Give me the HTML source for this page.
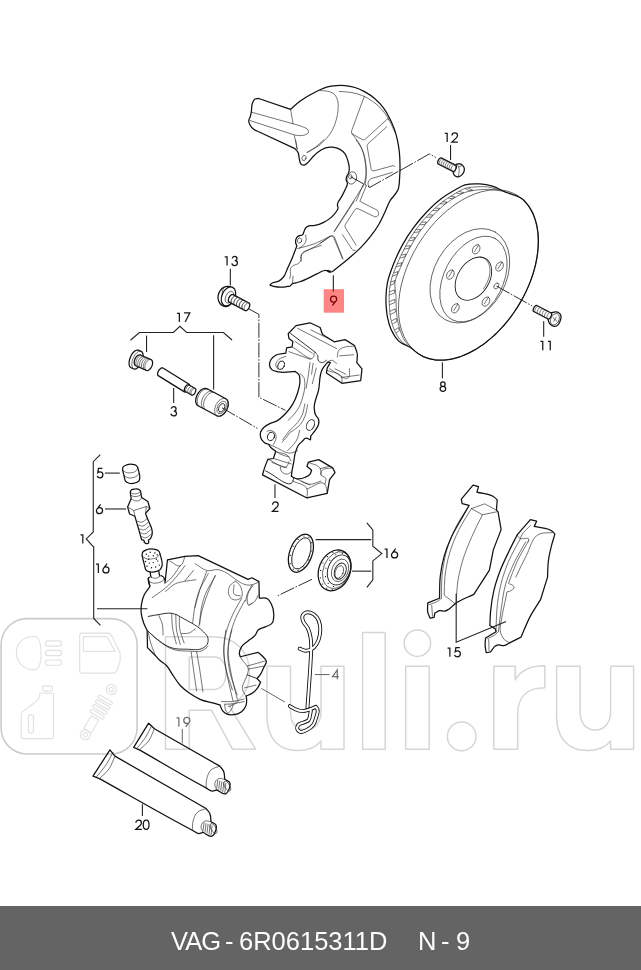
<!DOCTYPE html>
<html><head><meta charset="utf-8"><title>VAG 6R0615311D</title>
<style>
html,body{margin:0;padding:0;background:#fff}
body{width:641px;height:970px;position:relative;overflow:hidden;font-family:"Liberation Sans",sans-serif}
svg{position:absolute;left:0;top:0;display:block}
.k{fill:none;stroke:#111;stroke-width:1.25;stroke-linejoin:round;stroke-linecap:round}
.kf{fill:#fff;stroke:#111;stroke-width:1.25;stroke-linejoin:round;stroke-linecap:round}
.t{fill:none;stroke:#2a2a2a;stroke-width:.65;stroke-linejoin:round;stroke-linecap:round}
.tf{fill:#fff;stroke:#2a2a2a;stroke-width:.65;stroke-linejoin:round}
.m{fill:none;stroke:#1a1a1a;stroke-width:.9;stroke-linejoin:round;stroke-linecap:round}
.l{fill:none;stroke:#222;stroke-width:1.1}
.lg{fill:none;stroke:#666;stroke-width:1}
.d{fill:none;stroke:#1a1a1a;stroke-width:.9;stroke-dasharray:15 1.6 1.6 1.6}
.w{fill:none;stroke:#d6d6d6;stroke-width:1.5;stroke-linejoin:round}
.w2{fill:none;stroke:#e2e2e2;stroke-width:1.2;stroke-linejoin:round;stroke-linecap:round}
.wb{fill:none;stroke:#cbcbcb;stroke-width:1.6}
.n{vector-effect:non-scaling-stroke;fill:none;stroke:#151515;stroke-width:1.25;stroke-linecap:butt;stroke-linejoin:miter}
.bar{position:absolute;left:0;top:906px;width:641px;height:64px;background:#646464;color:#fff;font-size:25.5px;line-height:70.4px;white-space:pre;text-align:left}
.bar span{position:absolute;left:171px;top:0;will-change:transform;opacity:.999}
</style></head><body>
<svg width="641" height="970" viewBox="0 0 641 970">
<g id="p_wm"><rect class="wb" x="1.1" y="618.6" width="136" height="135.4" rx="26" ry="26"/>
<g transform="translate(0 612) scale(0.2184)" fill="none" stroke="#e1e1e1" stroke-width="5.2" stroke-linejoin="round"><path d="M155,112C100,112 75,150 75,187C75,225 105,265 155,265C180,265 188,230 188,190C188,150 180,112 155,112Z"/><rect x="208" y="132" width="74" height="24" rx="12"/><rect x="208" y="176" width="74" height="24" rx="12"/><rect x="208" y="220" width="74" height="24" rx="12"/><path d="M375,97H495C505,97 510,105 515,115L550,190V225L535,270C532,278 528,280 520,280H375C368,280 365,276 365,270V108C365,100 368,97 375,97Z"/><path d="M382,113H490L527,180H382Z"/><rect x="195" y="338" width="45" height="24" rx="8"/><path d="M182,372H245V570C245,578 240,580 235,580H105C100,580 97,576 97,570V470C97,462 100,458 105,455L165,410C175,402 180,395 182,385Z"/><rect x="130" y="470" width="23" height="85" rx="11"/><g transform="translate(510 355) rotate(30)"><circle cx="0" cy="0" r="23"/><circle cx="0" cy="0" r="10"/><rect x="-36" y="48" width="72" height="15" rx="7"/><rect x="-36" y="73" width="72" height="15" rx="7"/><rect x="-36" y="98" width="72" height="15" rx="7"/><rect x="-36" y="123" width="72" height="15" rx="7"/><path d="M-20,150H20V218H-20Z"/><circle cx="0" cy="239" r="23"/><circle cx="0" cy="239" r="10"/></g></g>
<path class="w" d="M165.5,636.8H213C236,636.8 249.5,652 249.5,673C249.5,690 241,701 229,705.5L255.5,749.2H232.5L211.5,710.2H189.3V749.2H165.5ZM189.3,657H214C222,657 226,664 226,673C226,682 222,689.4 214,689.4H189.3Z"/>
<path class="w" d="M267.0,666.2H290.5V712C290.5,724 297.0,730 306.0,730C315.0,730 321.0,722 321.0,712V666.2H344.0V749.3H321.0V741C316.0,747 308.0,750.6 298.0,750.6C278.0,750.6 267.0,738 267.0,716Z"/>
<path class="w" d="M556.6,666.2H580.1V712C580.1,724 586.6,730 595.6,730C604.6,730 610.6,722 610.6,712V666.2H633.6V749.3H610.6V741C605.6,747 597.6,750.6 587.6,750.6C567.6,750.6 556.6,738 556.6,716Z"/>
<path class="w" d="M362.6,632.6H385.2V749.2H362.6Z"/>
<path class="w" d="M405.7,666.2H429.2V749.2H405.7Z"/>
<circle class="w" cx="417.4" cy="643.2" r="13.2"/>
<circle class="w" cx="461.7" cy="736.4" r="14.3"/>
<path class="w" d="M493.8,666.2H515.2V680C520,671 530,665.8 544.8,665.8V687.7C527,687.7 517.7,697 517.7,714V749.2H493.8Z"/></g>
<g id="p_shield"><path class="k" d="M290.55,109.33L258.72,98.47C257.47,98.64 256.07,98.34 254.98,98.97C253.58,99.77 253.12,101.61 252.48,103.09C251.24,105.98 251.84,109.36 251.23,112.45C250.94,113.91 250.68,115.39 250.23,116.82C249.83,118.1 248.83,119.22 248.74,120.56C248.63,122.07 249.3,123.58 249.98,124.93C250.85,126.64 252.21,128.12 253.73,129.3C255.2,130.44 257.06,130.96 258.72,131.79L294.91,148.64C295.95,149.89 297.28,150.95 298.03,152.39C299.01,154.27 298.73,156.58 299.28,158.63C299.79,160.53 299.57,163.06 301.15,164.24C301.87,164.78 302.76,165.21 303.65,165.24C305.1,165.3 306.24,163.88 307.39,163C309.39,161.48 310.65,159.18 312.39,157.38C314.02,155.69 315.6,153.92 317.46,152.48C319.74,150.71 322.19,148.99 324.95,148.11C327.34,147.35 329.93,147.05 332.43,147.24C335.02,147.44 337.66,148.08 339.92,149.36C341.85,150.45 343.58,151.96 344.91,153.73C346.54,155.89 347.3,158.62 348.03,161.22C348.72,163.65 349.36,166.18 349.28,168.71C349.24,170.18 349.18,171.7 348.66,173.07C348.23,174.21 347.21,175.06 346.79,176.19C346.34,177.38 346,178.68 346.16,179.94C346.3,181.05 347.24,181.95 347.41,183.06C347.79,185.46 345.87,187.68 344.91,189.92C343.82,192.49 342.56,194.99 341.17,197.41C340.2,199.11 338.7,200.55 338.05,202.4C337.76,203.21 337.47,204.04 337.43,204.9C337.38,205.96 338.14,206.96 338.05,208.02C337.93,209.41 336.92,210.58 336.18,211.76C334.85,213.89 333.06,215.71 331.19,217.38C328.95,219.37 326.38,221.02 323.7,222.37C320.94,223.76 318.01,224.96 314.96,225.49C312.91,225.85 310.64,225.06 308.72,225.87C307.56,226.35 306.43,227.04 305.6,227.99C304.55,229.18 304.41,230.92 303.73,232.36C303.33,233.2 303.16,234.21 302.48,234.85C301.54,235.74 299.84,235.17 298.74,235.85C297.68,236.5 296.78,237.48 296.24,238.6C295.68,239.73 295.52,241.08 295.62,242.34C295.71,243.65 296.45,244.84 296.86,246.08C295.39,249.85 293.99,253.66 292.43,257.39C290.85,261.18 289.14,264.9 287.44,268.63C286.21,271.34 285.56,274.41 283.7,276.74C282.32,278.47 280.6,279.98 278.71,281.11C276.45,282.46 273.11,281.77 271.22,283.6C270.75,284.06 270.38,284.6 269.97,285.1C271.63,285.64 273.25,286.35 274.96,286.72C277.81,287.34 280.79,287.31 283.7,287.1C285.8,286.94 287.86,286.43 289.94,286.1L292.43,283.6C294.93,282.98 297.48,282.54 299.92,281.73C302.49,280.89 304.95,279.72 307.41,278.61C310.8,277.08 314,275.15 317.39,273.62C319.86,272.51 322.19,270.71 324.88,270.5C326.6,270.37 331.66,271.56 330,271.12C329.18,270.91 328.28,270.31 327.49,270.64C326.42,271.08 329.46,272.19 330.61,272.14C331.27,272.11 331.86,271.72 332.48,271.51C334.56,269.85 336.65,268.19 338.72,266.52C342.06,263.83 345.43,261.18 348.71,258.41C352.53,255.17 356.4,251.97 359.94,248.43C363.48,244.88 366.81,241.12 369.92,237.19C373.07,233.21 376.07,229.08 378.66,224.71C381.03,220.71 382.92,216.44 384.9,212.23C386.64,208.52 387.87,204.56 389.89,201C392.17,197 396.35,194.12 398,189.83C399.51,185.91 399.29,181.53 399.63,177.35C399.96,173.2 400.04,169.03 400,164.87C399.96,160.7 399.81,156.53 399.38,152.39C398.98,148.62 398.41,144.86 397.63,141.15C396.83,137.36 395.88,133.59 394.63,129.92C393.32,126.07 391.71,122.32 389.89,118.69C388.05,115.02 386.1,111.37 383.65,108.08C381.1,104.66 378.16,101.5 374.91,98.72C371.85,96.09 368.47,93.8 364.93,91.86C361.75,90.11 358.42,88.54 354.95,87.49C351.71,86.5 348.33,85.91 344.96,85.62C342.06,85.37 339.13,85.41 336.22,85.62C333.29,85.82 330.33,86.11 327.49,86.86C324.9,87.55 322.45,88.66 320,89.73C316.52,91.26 313.19,93.1 309.89,94.98C306.48,96.92 303.07,98.89 299.91,101.22C296.58,103.66 293.67,106.63 290.55,109.33Z"/>
<path class="t" d="M251.48,112.2L294.91,124.31C297.83,125.26 300.92,125.78 303.65,127.18C305.18,127.96 307.31,128.35 308.02,129.92C308.36,130.69 308.6,131.6 308.39,132.42C308.05,133.81 306.21,134.34 304.9,134.91C302.98,135.75 300.75,135.63 298.66,135.54C297.19,135.48 295.75,135.12 294.29,134.91L249.98,120.56"/>
<path class="t" d="M290.55,109.33C290.96,111.62 291.39,113.9 291.79,116.19C292.23,118.69 292.63,121.19 293.04,123.68"/>
<path class="t" d="M294.29,135.54C294.83,137.83 295.39,140.11 295.91,142.4C296.43,144.69 296.91,146.98 297.41,149.27"/>
<ellipse class="t" cx="304.02" cy="158" rx="2" ry="2.62" transform="rotate(20 304.02 158)"/>
<path class="t" d="M307.39,152.39C309.47,151.22 311.58,150.11 313.63,148.89C315.79,147.62 317.88,146.23 320,144.9"/>
<path class="t" d="M339.34,91.48C343.3,91.81 347.3,91.78 351.2,92.48C355.03,93.17 358.84,94.11 362.43,95.6C365.96,97.06 369.29,99.03 372.42,101.22C375.56,103.41 378.55,105.89 381.15,108.71C383.79,111.54 386.01,114.76 388.02,118.07C389.95,121.24 391.49,124.66 393.01,128.05C393.66,129.49 394.26,130.96 394.88,132.42"/>
<path class="t" d="M364.31,96.22L352.2,129.3C351.95,130.13 351.41,130.93 351.45,131.79C351.49,132.54 351.95,133.21 352.2,133.92L362.43,139.66C362.93,139.74 363.43,139.98 363.93,139.91C364.56,139.81 365.01,139.24 365.55,138.91L388.02,118.44L388.64,119.94"/>
<path class="t" d="M386.77,126.8L368.05,143.65C367.76,144.27 367.31,144.85 367.18,145.52C367.01,146.34 367.34,147.19 367.43,148.02L371.17,169.24C371.5,169.69 371.69,170.31 372.17,170.61C372.67,170.92 373.33,170.77 373.92,170.86L393.63,165.49L394.88,166.74"/>
<path class="t" d="M351.83,133.67C354.11,136.58 356.79,139.22 358.69,142.4C360.55,145.52 361.94,148.93 363.06,152.39C364.37,156.42 365.03,160.66 365.55,164.87C366.06,169 366.53,173.2 366.18,177.35C365.97,179.87 365.35,182.34 364.93,184.84"/>
<path class="t" d="M320,90.61C322.5,90.82 325.06,90.64 327.49,91.23C329.66,91.77 332,92.3 333.73,93.73C335.6,95.28 336.69,97.67 337.47,99.97C338.41,102.73 338.19,105.79 338.1,108.71C337.98,112.5 337.22,116.27 336.22,119.94C335.29,123.37 334.15,126.78 332.48,129.92C330.8,133.08 328.66,136.02 326.24,138.66C324.35,140.72 322.08,142.4 320,144.27"/>
<ellipse class="t" cx="351.83" cy="177.97" rx="4.74" ry="6.24" transform="rotate(15 351.83 177.97)"/>
<ellipse class="t" cx="350.33" cy="176.72" rx="1.75" ry="2.12" transform="rotate(15 350.33 176.72)"/>
<path class="t" d="M369.3,187.33C368.88,186.29 368.16,185.33 368.05,184.21C367.93,182.94 368.2,181.53 368.92,180.47C369.47,179.66 370.42,179.22 371.17,178.6L392.39,172.36"/>
<path class="t" d="M363.06,184.84L356.19,201.06"/>
<path class="t" d="M366.18,186.08L359.94,201.06"/>
<path class="t" d="M360.56,201.62L377.41,210.36C377.83,211.4 378.71,212.36 378.66,213.48C378.62,214.38 378.31,215.36 377.66,215.98C376.97,216.64 375.83,216.56 374.91,216.85L358.07,208.74C357.36,208.74 356.59,208.44 355.94,208.74C355.41,208.98 355.11,209.57 354.7,209.99L345.59,224.09C345.38,224.92 344.86,225.73 344.96,226.59C345.05,227.36 345.63,228 345.96,228.71L356.19,245.31"/>
<path class="t" d="M342.46,234.7L351.83,249.05C352.37,249.47 352.8,250.07 353.45,250.3C354,250.49 354.61,250.38 355.2,250.42"/>
<path class="t" d="M354.32,201L334.35,231.58"/>
<path class="t" d="M320,243.43L331.23,235.95C331.86,235.86 332.51,235.48 333.1,235.7C333.66,235.89 333.94,236.53 334.35,236.94L343.09,259.03"/>
<path class="t" d="M306.85,152.48C309.55,150.82 312.38,149.34 314.96,147.49C318.08,145.25 320.79,142.5 323.7,140"/>
<path class="t" d="M295.62,140L296.86,148.74"/>
<path class="t" d="M356.15,140C358.23,143.33 360.81,146.39 362.39,149.98C363.95,153.54 364.88,157.38 365.51,161.22C366.11,164.92 366.34,168.71 366.13,172.45C365.97,175.39 365.69,178.36 364.88,181.19C364.4,182.9 363.63,184.51 363.01,186.18"/>
<path class="t" d="M363.01,186.18L334.31,231.11"/>
<path class="t" d="M297.49,248.58C303.31,246.92 309.31,245.77 314.96,243.59C320.13,241.59 324.95,238.76 329.94,236.35C330.56,236.27 331.2,235.96 331.81,236.1C332.59,236.27 333.06,237.1 333.68,237.6L342.42,258.56"/>
<path class="t" d="M301.23,261.06C301.44,258.77 300.6,256.12 301.86,254.2C302.83,252.7 304.7,252.02 306.22,251.08C310.76,248.27 316.21,247.33 321.2,245.46"/>
<ellipse class="t" cx="299.55" cy="240.55" rx="2.12" ry="2.62" transform="rotate(20 299.55 240.55)"/>
<path class="t" d="M305.54,234.93C305.75,236.59 306.42,238.26 306.16,239.92C305.88,241.76 304.88,243.51 303.67,244.91C302.5,246.27 300.75,246.99 299.3,248.03"/>
<path class="t" d="M330,236.18C326.63,238.67 323.42,241.4 319.89,243.67C316.68,245.73 313.33,247.58 309.91,249.28C307.66,250.4 304.82,250.63 303.04,252.4C302.3,253.14 301.64,253.97 301.17,254.9C300.23,256.77 301.62,259.35 300.55,261.14C299.94,262.15 298.99,262.92 298.05,263.63C296.42,264.88 293.92,264.72 292.43,266.13C291.68,266.85 291,267.68 290.56,268.63C289.69,270.52 290.86,272.81 290.56,274.87C290.38,276.14 289.98,277.36 289.69,278.61"/>
<path class="t" d="M293.06,276.12L292.43,283.6"/>
<path class="l" d="M333.35,275.26L333.35,291.86"/></g>
<g id="p_disc"><ellipse class="t" cx="468.4" cy="274.9" rx="93.4" ry="58.7" transform="rotate(-58.4 468.4 274.9)"/>
<path class="k" d="M522.69,199.34C523.48,200.04 524.23,200.78 524.95,201.55C525.68,202.32 526.38,203.13 527.05,203.96C527.74,204.8 528.38,205.67 528.99,206.57C529.62,207.48 530.21,208.42 530.76,209.37C531.33,210.35 531.86,211.35 532.36,212.36C532.87,213.4 533.34,214.45 533.77,215.52C534.22,216.62 534.63,217.73 535,218.85C535.39,220 535.73,221.17 536.04,222.34C536.37,223.54 536.65,224.76 536.9,225.98C537.15,227.23 537.37,228.49 537.56,229.75C537.75,231.05 537.9,232.35 538.02,233.65C538.14,234.99 538.23,236.33 538.29,237.67C538.35,239.04 538.37,240.42 538.36,241.79C538.35,243.2 538.31,244.6 538.24,246.01C538.16,247.44 538.05,248.87 537.91,250.3C537.77,251.76 537.6,253.22 537.4,254.67C537.19,256.15 536.95,257.62 536.69,259.09C536.42,260.59 536.11,262.08 535.78,263.56C535.45,265.07 535.08,266.57 534.69,268.06C534.29,269.57 533.86,271.08 533.41,272.58C532.95,274.09 532.46,275.6 531.95,277.1C531.43,278.62 530.88,280.12 530.31,281.62C529.73,283.13 529.12,284.63 528.49,286.12C527.85,287.62 527.19,289.11 526.51,290.59C525.81,292.07 525.1,293.55 524.36,295.01C523.61,296.48 522.84,297.94 522.05,299.38C521.26,300.83 520.44,302.26 519.59,303.68C518.75,305.1 517.88,306.5 516.99,307.89C516.1,309.28 515.19,310.66 514.26,312.02C513.32,313.38 512.37,314.72 511.39,316.04C510.41,317.36 509.42,318.66 508.4,319.94C507.39,321.22 506.36,322.48 505.3,323.72C504.25,324.95 503.19,326.17 502.1,327.36C501.02,328.54 499.92,329.71 498.8,330.85C497.69,331.99 496.56,333.1 495.41,334.19C494.28,335.27 493.12,336.32 491.95,337.36C490.79,338.38 489.62,339.38 488.42,340.35C487.25,341.31 486.05,342.25 484.84,343.16C483.65,344.05 482.44,344.93 481.21,345.77C480.01,346.6 478.79,347.41 477.55,348.19C476.33,348.95 475.1,349.69 473.85,350.4C472.63,351.09 471.4,351.76 470.15,352.4C468.92,353.02 467.69,353.62 466.44,354.18C465.21,354.73 463.98,355.25 462.73,355.73C461.51,356.21 460.28,356.66 459.04,357.06C457.83,357.46 456.61,357.83 455.38,358.16C454.18,358.48 452.97,358.77 451.75,359.03C450.56,359.27 449.37,359.48 448.17,359.65C447,359.82 445.82,359.95 444.65,360.04C443.5,360.13 442.34,360.18 441.19,360.19C440.06,360.2 438.93,360.17 437.81,360.1C436.71,360.03 435.61,359.92 434.52,359.77C433.44,359.62 432.37,359.43 431.32,359.2C430.28,358.97 429.24,358.7 428.22,358.39C427.22,358.08 426.22,357.73 425.24,357.35C424.27,356.96 423.32,356.54 422.38,356.07C421.45,355.61 420.54,355.11 419.65,354.57C418.76,354.03 417.9,353.45 417.06,352.84C416.22,352.23 415.4,351.58 414.61,350.9C413.82,350.21 413.11,349.42 412.31,348.73C408.39,345.33 402.47,344.69 398.72,341.09C395.47,337.98 393.14,333.94 391.23,329.86C389.39,325.92 388.34,321.64 387.49,317.38C386.83,314.09 386.5,310.74 386.24,307.39C385.96,303.66 385.86,299.9 385.99,296.16C386.16,291.53 386.59,286.87 387.5,282.32C388.78,275.87 391.31,269.72 393.74,263.6C396.28,257.2 399.15,250.91 402.47,244.88C405.82,238.82 409.59,232.98 413.71,227.41C417.91,221.71 422.49,216.26 427.43,211.19C431.75,206.75 436.23,202.43 441.16,198.71C445.49,195.44 450.14,192.59 454.89,189.97C458.17,188.16 461.37,186.04 464.96,184.96C469.75,183.52 474.95,183.63 479.94,183.96C484.16,184.24 488.37,184.98 492.42,186.21C496.78,187.54 500.72,189.99 504.9,191.83C510.79,194.41 517.85,195.1 522.69,199.34Z"/>
<path class="t" d="M412.31,348.73C408.61,346.19 404.3,344.36 401.22,341.09C398.21,337.9 396.16,333.86 394.35,329.86C392.56,325.89 391.29,321.66 390.48,317.38C389.86,314.09 389.71,310.73 389.49,307.39C389.23,303.66 389,299.91 389.11,296.16C389.25,291.52 389.65,286.86 390.62,282.32C391.8,276.73 394.11,271.41 396.23,266.1C398.79,259.71 401.72,253.45 404.97,247.38C408.18,241.37 411.61,235.44 415.58,229.91C419.54,224.39 423.96,219.19 428.68,214.31C432.98,209.86 437.48,205.56 442.41,201.83C446.37,198.83 450.59,196.19 454.89,193.71C458.17,191.82 461.36,189.63 464.96,188.46C468.95,187.16 473.25,187.07 477.44,186.83C480.76,186.64 484.12,186.43 487.43,186.83C490.83,187.25 494.08,188.5 497.41,189.33"/>
<path class="t" d="M412.31,348.73C409.86,346.19 406.97,344 404.96,341.09C402.63,337.72 401.27,333.74 399.97,329.86C398.61,325.81 397.73,321.6 397.1,317.38C396.6,314.07 396.41,310.73 396.22,307.39C396.01,303.66 396.14,299.9 395.98,296.16C395.77,291.54 394.39,286.91 394.98,282.32C395.67,277.04 398.56,272.27 400.6,267.35C403.06,261.42 405.7,255.55 408.71,249.88C411.91,243.86 415.41,237.98 419.32,232.4C423.14,226.95 427.28,221.69 431.8,216.8C435.89,212.37 440.15,208.03 444.91,204.32C448.46,201.56 452.22,199.05 456.14,196.83C459,195.22 461.87,193.56 464.96,192.45C468.95,191.01 473.23,190.47 477.44,189.95C481.58,189.44 485.76,189.13 489.92,189.33C494.12,189.54 498.24,190.58 502.4,191.2"/>
<path class="t" d="M396.38,332.73L397.05,332.26L399.39,330.64L398.47,327.65L395.57,329.46L394.75,329.97"/>
<path class="t" d="M392.78,323.77L393.7,323.26L396.94,321.45L396.19,318.39L392.8,320.19L391.84,320.7"/>
<path class="t" d="M390.52,314.36L391.6,313.85L395.43,312.05L395.15,308.91L391.29,310.67L390.2,311.17"/>
<path class="t" d="M389.73,304.67L390.87,304.2L394.9,302.52L394.82,299.37L390.78,301L389.63,301.46"/>
<path class="t" d="M389.55,294.96L390.65,294.52L394.55,292.98L394.43,289.84L390.88,291.34L389.87,291.77"/>
<path class="t" d="M390.52,285.29L391.33,284.89L394.18,283.47L394.9,280.45L391.79,281.75L390.91,282.11"/>
<path class="t" d="M393.05,275.96L393.95,275.63L397.12,274.45L398.21,271.49L395.01,272.61L394.1,272.93"/>
<path class="t" d="M396.25,266.78L397.2,266.51L400.56,265.55L401.88,262.68L398.49,263.59L397.53,263.84"/>
<path class="t" d="M400.29,257.94L401.23,257.7L404.57,256.88L405.9,254.02L402.58,254.81L401.64,255.03"/>
<path class="t" d="M404.41,249.13L405.37,248.95L408.76,248.31L410.36,245.6L406.88,246.14L405.89,246.29"/>
<path class="t" d="M409.27,240.72L410.25,240.59L413.68,240.13L415.32,237.44L411.91,237.86L410.94,237.98"/>
<path class="t" d="M414.32,232.41L415.29,232.32L418.69,232.01L420.61,229.51L417.04,229.66L416.03,229.7"/>
<path class="t" d="M420.22,224.71L421.19,224.67L424.62,224.53L426.6,222.08L423.23,222.21L422.28,222.25"/>
<path class="t" d="M426.46,217.26L427.38,217.22L430.62,217.1L432.83,214.86L429.49,214.82L428.54,214.81"/>
<path class="t" d="M433.29,210.37L434.22,210.39L437.47,210.45L439.76,208.29L436.57,208.22L435.67,208.2"/>
<path class="t" d="M440.48,203.82L441.36,203.85L444.46,203.96L447.04,202.15L443.81,201.81L442.9,201.71"/>
<path class="t" d="M448.36,198.16L449.24,198.26L452.37,198.62L454.99,196.87L451.92,196.51L451.05,196.41"/>
<path class="t" d="M456.6,193.02L457.5,193.21L460.65,193.91L463.47,192.5L460.33,191.75L459.45,191.53"/>
<path class="t" d="M465.25,188.6L466.21,189.09L469.59,190.8L472.69,190.23L469.37,188.63L468.43,188.17"/>
<ellipse class="t" cx="469.9" cy="275.7" rx="50.5" ry="35.7" transform="rotate(-60 469.9 275.7)"/>
<ellipse class="t" cx="473.5" cy="279" rx="46" ry="29.4" transform="rotate(-62.2 473.5 279)"/>
<ellipse class="m" cx="473.4" cy="278.7" rx="23.5" ry="15.8" transform="rotate(-58.2 473.4 278.7)"/>
<path class="t" d="M480.06,257C480.58,257.09 481.11,257.15 481.62,257.28C482.11,257.41 482.6,257.58 483.07,257.78C483.54,257.98 483.99,258.22 484.43,258.48C484.86,258.75 485.27,259.05 485.65,259.38C486.05,259.71 486.41,260.08 486.75,260.47C487.09,260.86 487.41,261.29 487.7,261.73C487.99,262.19 488.26,262.67 488.49,263.16C488.73,263.67 488.94,264.2 489.12,264.74C489.31,265.3 489.46,265.87 489.58,266.45C489.71,267.05 489.81,267.67 489.87,268.28C489.94,268.92 489.98,269.56 489.98,270.21C489.99,270.88 489.97,271.55 489.92,272.22C489.87,272.91 489.78,273.6 489.68,274.29C489.56,274.99 489.42,275.7 489.26,276.39C489.09,277.11 488.89,277.82 488.67,278.52C488.45,279.24 488.19,279.94 487.92,280.64C487.64,281.35 487.33,282.05 487.01,282.74C486.68,283.44 486.33,284.12 485.95,284.79C485.57,285.47 485.18,286.13 484.76,286.78C484.34,287.43 483.88,288.05 483.44,288.68"/>
<ellipse class="t" cx="476.2" cy="249.3" rx="5" ry="3.4" transform="rotate(-60 476.2 249.3)"/>
<path class="t" d="M474.6,251.5L478.1,245.7"/>
<ellipse class="t" cx="499.6" cy="266.5" rx="5" ry="3.4" transform="rotate(-60 499.6 266.5)"/>
<path class="t" d="M498,268.7L501.5,262.9"/>
<ellipse class="t" cx="450.4" cy="274.6" rx="5" ry="3.4" transform="rotate(-60 450.4 274.6)"/>
<path class="t" d="M448.8,276.8L452.3,271"/>
<ellipse class="t" cx="486" cy="301.6" rx="5" ry="3.4" transform="rotate(-60 486 301.6)"/>
<path class="t" d="M484.4,303.8L487.9,298"/>
<ellipse class="t" cx="455.4" cy="308.3" rx="5" ry="3.4" transform="rotate(-60 455.4 308.3)"/>
<path class="t" d="M453.8,310.5L457.3,304.7"/>
<ellipse class="t" cx="496.4" cy="286" rx="3.2" ry="2.2" transform="rotate(-60 496.4 286)"/>
<path class="l" d="M442.4,362.2L442.4,378.4"/></g>
<g id="p_bolts"><path class="k" d="M454.91,165.68C455.54,165.18 456.06,164.51 456.79,164.18C457.74,163.76 458.89,163.71 459.91,163.93C460.93,164.15 461.91,164.7 462.65,165.43C463.46,166.22 464.06,167.31 464.27,168.42C464.49,169.53 464.28,170.73 463.9,171.79C463.48,172.98 462.7,174.06 461.78,174.91C460.83,175.78 459.69,176.67 458.41,176.79C457.29,176.89 456.08,176.56 455.16,175.91C454.39,175.37 453.72,174.57 453.42,173.67C453.12,172.8 453.42,171.84 453.42,170.92"/>
<path class="kf" d="M438.16,163.94L437.86,163.66L437.69,163.19L437.65,162.57L437.75,161.84L437.99,161.05L438.34,160.25L438.78,159.49L439.28,158.84L439.81,158.33L440.33,157.99L440.81,157.86L441.22,157.93L455.94,165.42L456.24,165.7L456.41,166.17L456.45,166.79L456.35,167.52L456.12,168.31L455.77,169.11L455.33,169.87L454.82,170.52L454.29,171.03L453.77,171.37L453.29,171.5L452.89,171.43Z"/>
<path class="t" d="M439.64,164.68L439.34,164.4L439.17,163.93L439.14,163.31L439.25,162.58L439.48,161.79L439.84,160.99L440.28,160.24L440.79,159.59L441.32,159.08L441.85,158.74L442.33,158.61L442.73,158.69"/>
<path class="t" d="M441.62,165.7L441.32,165.42L441.15,164.95L441.12,164.33L441.22,163.6L441.46,162.81L441.81,162.01L442.26,161.26L442.77,160.6L443.3,160.09L443.83,159.76L444.3,159.63L444.71,159.71"/>
<path class="t" d="M443.59,166.72L443.3,166.44L443.13,165.97L443.09,165.35L443.2,164.62L443.44,163.83L443.79,163.03L444.24,162.28L444.74,161.62L445.28,161.11L445.8,160.78L446.28,160.65L446.68,160.73"/>
<path class="t" d="M445.57,167.74L445.27,167.46L445.1,166.99L445.07,166.37L445.17,165.64L445.41,164.85L445.77,164.05L446.21,163.3L446.72,162.64L447.25,162.13L447.78,161.8L448.26,161.67L448.66,161.75"/>
<path class="t" d="M447.55,168.76L447.25,168.47L447.08,168.01L447.04,167.39L447.15,166.66L447.39,165.87L447.74,165.07L448.19,164.32L448.7,163.66L449.23,163.15L449.75,162.82L450.23,162.69L450.63,162.77"/>
<path class="t" d="M449.52,169.78L449.23,169.49L449.05,169.03L449.02,168.41L449.13,167.68L449.36,166.88L449.72,166.09L450.16,165.33L450.67,164.68L451.21,164.17L451.73,163.84L452.21,163.71L452.61,163.79"/>
<path class="t" d="M451.5,170.8L451.2,170.51L451.03,170.05L451,169.43L451.1,168.7L451.34,167.9L451.69,167.11L452.14,166.35L452.65,165.7L453.18,165.19L453.71,164.86L454.19,164.73L454.59,164.81"/>
<path class="t" d="M456.79,164.18C457.41,165.1 458.18,165.93 458.66,166.93C460.07,169.89 458.49,173.5 458.41,176.79"/>
<path class="t" d="M458.66,166.93L462.65,165.43"/>
<path class="t" d="M454.91,165.68C455.21,166.47 455.72,167.21 455.79,168.05C455.87,169.13 455.35,170.18 454.91,171.17C454.52,172.06 453.92,172.83 453.42,173.67"/>
<path class="l" d="M450.55,144.96L450.55,159.94"/>
<path class="d" d="M400,170.55L429.33,153.95L435.82,157.44"/>
<path class="d" d="M350.58,176.72L369.92,187.33L400.5,170.11"/>
<path class="k" d="M551.17,312.7C552.83,312.45 554.5,311.71 556.16,311.95C557.02,312.07 557.92,312.25 558.66,312.7C559.7,313.33 560.52,314.42 560.9,315.57C561.37,316.95 560.91,318.53 560.53,319.94C560.12,321.5 559.53,323.14 558.41,324.31C557.47,325.29 556.27,326.31 554.91,326.43C553.84,326.52 552.73,326.09 551.79,325.55C550.77,324.97 549.93,324.05 549.3,323.06C548.59,321.95 548.47,320.56 548.05,319.31"/>
<path class="kf" d="M533.65,311.45L533.35,311.17L533.18,310.7L533.15,310.08L533.25,309.35L533.49,308.56L533.85,307.76L534.29,307.01L534.8,306.36L535.34,305.85L535.86,305.52L536.34,305.38L536.74,305.46L551.22,312.95L551.52,313.23L551.69,313.7L551.72,314.32L551.61,315.05L551.37,315.84L551.02,316.64L550.57,317.39L550.06,318.04L549.53,318.55L549.01,318.88L548.53,319.02L548.12,318.94Z"/>
<path class="t" d="M535.25,312.19L534.96,311.9L534.79,311.43L534.76,310.81L534.87,310.08L535.12,309.29L535.48,308.5L535.93,307.75L536.44,307.1L536.98,306.6L537.5,306.27L537.98,306.14L538.39,306.22"/>
<path class="t" d="M537.67,313.46L537.38,313.18L537.21,312.71L537.18,312.09L537.29,311.36L537.54,310.57L537.9,309.77L538.35,309.02L538.86,308.37L539.4,307.87L539.93,307.54L540.41,307.41L540.81,307.49"/>
<path class="t" d="M540.09,314.73L539.8,314.45L539.63,313.98L539.6,313.36L539.71,312.63L539.96,311.84L540.32,311.04L540.77,310.3L541.28,309.65L541.82,309.14L542.35,308.81L542.83,308.69L543.23,308.77"/>
<path class="t" d="M542.51,316.01L542.22,315.72L542.05,315.25L542.02,314.63L542.13,313.9L542.38,313.11L542.74,312.32L543.19,311.57L543.7,310.92L544.24,310.42L544.77,310.09L545.25,309.96L545.65,310.04"/>
<path class="t" d="M544.93,317.28L544.64,316.99L544.47,316.53L544.44,315.91L544.56,315.18L544.8,314.39L545.16,313.59L545.61,312.84L546.12,312.19L546.66,311.69L547.19,311.36L547.67,311.23L548.07,311.31"/>
<path class="t" d="M547.36,318.55L547.06,318.27L546.89,317.8L546.87,317.18L546.98,316.45L547.22,315.66L547.58,314.86L548.03,314.12L548.55,313.47L549.08,312.96L549.61,312.63L550.09,312.51L550.49,312.59"/>
<ellipse class="t" cx="554.91" cy="319.31" rx="4.12" ry="5.99" transform="rotate(25 554.91 319.31)"/>
<path class="t" d="M553.04,317.44L556.79,321.19"/>
<path class="t" d="M556.16,317.19L553.67,321.44"/>
<path class="l" d="M543.68,321.19L543.68,336.79"/>
<path class="d" d="M496.4,286.0L532.2,306.0"/>
<path class="k" d="M232.7,288.06C231.16,287.52 229.71,286.51 228.08,286.44C226.59,286.37 225.04,286.76 223.71,287.43C222.32,288.14 221.15,289.3 220.22,290.55C219.14,292.01 218.37,293.76 218.1,295.55C217.84,297.2 217.96,298.95 218.47,300.54C218.91,301.9 219.58,303.27 220.59,304.28C221.61,305.3 222.93,306.11 224.34,306.4C225.56,306.66 226.91,306.6 228.08,306.15C229.33,305.68 230.16,304.49 231.2,303.66"/>
<path class="t" d="M223.71,287.43C223.21,289.1 222.46,290.71 222.22,292.43C221.92,294.49 222.2,296.6 222.46,298.67C222.8,301.3 223.71,303.82 224.34,306.4"/>
<ellipse class="kf" cx="228.46" cy="296.42" rx="6.49" ry="9.98" transform="rotate(25 228.46 296.42)"/>
<ellipse class="t" cx="229.45" cy="297.17" rx="3.74" ry="6.24" transform="rotate(25 229.45 297.17)"/>
<path class="kf" d="M229.21,302.16L228.74,301.75L228.45,301.11L228.34,300.29L228.42,299.34L228.7,298.33L229.14,297.32L229.73,296.39L230.41,295.59L231.15,294.99L231.9,294.62L232.59,294.51L233.19,294.67L248.92,303.03L249.38,303.44L249.68,304.08L249.79,304.9L249.71,305.85L249.43,306.87L248.99,307.87L248.4,308.81L247.72,309.6L246.98,310.2L246.23,310.57L245.54,310.68L244.93,310.53Z"/>
<path class="t" d="M244.93,310.53L244.47,310.11L244.17,309.48L244.06,308.65L244.15,307.7L244.42,306.69L244.87,305.68L245.45,304.75L246.14,303.96L246.88,303.35L247.62,302.99L248.32,302.88L248.92,303.03"/>
<path class="m" d="M231.98,303.67L231.51,303.27L231.21,302.63L231.09,301.81L231.17,300.86L231.44,299.84L231.88,298.83L232.46,297.9L233.14,297.1L233.88,296.49L234.62,296.12L235.31,296L235.91,296.15"/>
<path class="m" d="M234.66,305.08L234.19,304.67L233.89,304.03L233.78,303.21L233.86,302.26L234.12,301.25L234.56,300.24L235.14,299.3L235.82,298.5L236.56,297.89L237.3,297.52L238,297.41L238.6,297.56"/>
<path class="m" d="M237.35,306.48L236.88,306.07L236.58,305.44L236.46,304.62L236.54,303.67L236.81,302.65L237.25,301.64L237.83,300.7L238.51,299.91L239.24,299.3L239.98,298.93L240.68,298.81L241.28,298.96"/>
<path class="m" d="M240.03,307.89L239.56,307.48L239.26,306.84L239.14,306.02L239.22,305.07L239.49,304.05L239.93,303.04L240.51,302.11L241.19,301.31L241.93,300.7L242.67,300.33L243.36,300.21L243.96,300.37"/>
<path class="m" d="M242.71,309.29L242.24,308.88L241.94,308.25L241.83,307.42L241.91,306.47L242.17,305.46L242.61,304.45L243.19,303.51L243.87,302.71L244.61,302.11L245.35,301.73L246.05,301.62L246.65,301.77"/>
<path class="l" d="M230.33,268.71L230.33,285.56"/>
<path class="d" d="M248.9,308.9L258.9,314.4L258.9,397.3L285.4,410.3"/>
<path class="l" d="M130.46,340.28L139.35,332.48L173.36,332.48L179.91,326.24L186.62,332.48L223.44,332.48L232.02,339.97"/>
<path class="l" d="M146.53,335.6L146.53,351.98"/>
<path class="l" d="M213.61,335.29L213.61,389.42"/>
<path class="kf" d="M131.14,367.76L130.13,366.99L129.43,365.68L129.09,363.92L129.14,361.81L129.57,359.52L130.35,357.18L131.42,354.97L132.73,353.03L134.17,351.5L135.65,350.48L137.07,350.03L138.33,350.2L141.07,351.32L142.09,352.09L142.79,353.4L143.12,355.16L143.08,357.27L142.65,359.56L141.87,361.9L140.79,364.11L139.49,366.05L138.04,367.58L136.56,368.6L135.15,369.05L133.89,368.88Z"/>
<path class="t" d="M133.89,368.88L132.88,368.12L132.18,366.81L131.84,365.04L131.88,362.94L132.31,360.64L133.09,358.31L134.17,356.09L135.47,354.16L136.92,352.62L138.4,351.6L139.81,351.16L141.07,351.32"/>
<path class="kf" d="M135.76,365.73L135.04,365.19L134.52,364.33L134.24,363.19L134.23,361.86L134.49,360.43L134.99,358.99L135.7,357.65L136.57,356.49L137.55,355.59L138.57,355.01L139.56,354.8L140.45,354.97L151.05,359.59L151.78,360.13L152.3,360.99L152.57,362.13L152.59,363.46L152.33,364.89L151.83,366.33L151.12,367.67L150.24,368.83L149.26,369.73L148.25,370.31L147.26,370.52L146.37,370.35Z"/>
<path class="t" d="M146.37,370.35L145.64,369.81L145.13,368.95L144.85,367.81L144.84,366.48L145.09,365.05L145.59,363.61L146.31,362.27L147.18,361.1L148.16,360.21L149.18,359.63L150.17,359.42L151.05,359.59"/>
<path class="t" d="M137.39,366.48L136.67,365.95L136.15,365.08L135.87,363.95L135.86,362.62L136.11,361.19L136.61,359.75L137.32,358.4L138.19,357.24L139.17,356.34L140.19,355.76L141.17,355.55L142.06,355.72"/>
<path class="t" d="M139.27,367.29L138.54,366.76L138.02,365.9L137.74,364.76L137.73,363.43L137.98,362L138.48,360.56L139.19,359.21L140.06,358.05L141.04,357.15L142.06,356.57L143.04,356.36L143.93,356.53"/>
<path class="t" d="M141.14,368.1L140.41,367.57L139.89,366.71L139.61,365.57L139.6,364.24L139.85,362.81L140.35,361.37L141.06,360.02L141.93,358.86L142.91,357.96L143.93,357.38L144.92,357.17L145.8,357.34"/>
<path class="t" d="M143.01,368.92L142.28,368.38L141.76,367.52L141.49,366.38L141.47,365.05L141.72,363.62L142.22,362.18L142.93,360.83L143.81,359.67L144.79,358.77L145.8,358.2L146.79,357.98L147.68,358.15"/>
<path class="t" d="M144.88,369.73L144.15,369.19L143.63,368.33L143.36,367.19L143.35,365.86L143.6,364.43L144.09,362.99L144.8,361.65L145.68,360.48L146.66,359.58L147.67,359.01L148.66,358.8L149.55,358.96"/>
<path class="kf" d="M158.2,375.65L157.79,375.22L157.57,374.55L157.55,373.7L157.73,372.72L158.11,371.68L158.66,370.65L159.34,369.7L160.1,368.9L160.89,368.3L161.66,367.93L162.36,367.84L162.93,368.01L189.14,384.24L189.56,384.67L189.78,385.34L189.8,386.19L189.62,387.17L189.24,388.21L188.69,389.24L188.01,390.19L187.25,390.99L186.46,391.6L185.69,391.96L184.99,392.05L184.41,391.88Z"/>
<path class="kf" d="M184.93,391.32L184.58,390.97L184.37,390.42L184.32,389.71L184.45,388.89L184.73,388.01L185.15,387.14L185.68,386.32L186.29,385.63L186.93,385.1L187.56,384.77L188.14,384.67L188.62,384.8L195.24,388.54L195.6,388.89L195.8,389.44L195.85,390.15L195.73,390.97L195.44,391.85L195.02,392.72L194.49,393.54L193.88,394.23L193.24,394.76L192.61,395.08L192.03,395.19L191.55,395.06Z"/>
<path class="t" d="M191.55,395.06L191.19,394.71L190.98,394.16L190.94,393.45L191.06,392.63L191.34,391.75L191.76,390.88L192.3,390.07L192.9,389.37L193.55,388.85L194.18,388.52L194.75,388.42L195.24,388.54"/>
<path class="t" d="M186.16,391.93L185.8,391.57L185.6,391.02L185.56,390.32L185.69,389.5L185.98,388.62L186.4,387.75L186.94,386.94L187.56,386.25L188.2,385.73L188.83,385.4L189.41,385.31L189.89,385.44"/>
<path class="t" d="M188.22,393.11L187.86,392.76L187.66,392.21L187.62,391.5L187.75,390.68L188.04,389.8L188.46,388.93L189,388.13L189.61,387.44L190.26,386.91L190.89,386.59L191.47,386.49L191.95,386.62"/>
<path class="t" d="M190.28,394.3L189.92,393.95L189.72,393.4L189.68,392.69L189.81,391.87L190.09,390.99L190.52,390.12L191.06,389.31L191.67,388.62L192.32,388.1L192.95,387.78L193.53,387.68L194.01,387.81"/>
<path class="l" d="M173.67,388.06L173.67,403.03"/>
<path class="kf" d="M198.09,405.79L196.88,404.77L196.06,403.24L195.7,401.3L195.8,399.09L196.37,396.76L197.37,394.46L198.73,392.36L200.35,390.59L202.13,389.28L203.94,388.51L205.67,388.34L207.19,388.78L225.92,398.8L227.13,399.82L227.94,401.35L228.31,403.28L228.21,405.49L227.64,407.83L226.64,410.12L225.28,412.23L223.66,414L221.88,415.31L220.06,416.08L218.34,416.25L216.82,415.81Z"/>
<path class="t" d="M217.06,415.93L214.96,413.43L214.58,409.3L216.02,404.63L218.89,400.68L222.43,398.5L225.68,398.68L227.77,401.17L228.15,405.31L226.71,409.98L223.84,413.93L220.31,416.11L217.06,415.93"/>
<path class="t" d="M199.73,406.66L198.5,405.67L197.64,404.16L197.22,402.24L197.26,400.03L197.77,397.68L198.7,395.36L200,393.22L201.57,391.41L203.31,390.05L205.11,389.23L206.83,389.01L208.36,389.41"/>
<path class="t" d="M203.95,408.9L202.71,407.92L201.85,406.41L201.43,404.49L201.47,402.28L201.98,399.93L202.91,397.61L204.21,395.47L205.78,393.66L207.53,392.29L209.32,391.48L211.04,391.26L212.57,391.66"/>
<path class="t" d="M206.1,410.03L204.86,409.04L204.01,407.53L203.58,405.61L203.63,403.4L204.13,401.05L205.07,398.73L206.36,396.59L207.94,394.78L209.68,393.42L211.47,392.6L213.19,392.38L214.72,392.78"/>
<path class="t" d="M218.63,413.52L217.17,411.78L216.91,408.89L217.91,405.62L219.92,402.86L222.39,401.34L224.66,401.46L226.13,403.21L226.39,406.1L225.38,409.36L223.38,412.12L220.91,413.64L218.63,413.52"/>
<path class="m" d="M219.64,411.79L218.66,410.63L218.49,408.7L219.16,406.53L220.5,404.68L222.14,403.67L223.66,403.75L224.63,404.91L224.81,406.84L224.14,409.02L222.8,410.86L221.15,411.87L219.64,411.79"/>
<path class="d" d="M222.02,407.77L257.42,428.37"/></g>
<g id="p_carrier"><path class="k" d="M288.18,333.72L295.98,325.61L310.02,322.8L320.16,327.48L322.5,334.5L334.2,341.83L345.12,339.65L354.48,345.42C355.42,348.28 356.91,351.02 357.29,354C357.65,356.84 356.98,359.72 356.82,362.58L361.97,368.82L360.72,380.52L342,383.33L326.4,373.03L327.18,368.04L330.3,362.58L327.96,361.8C326.14,364.14 323.98,366.25 322.5,368.82C318.94,375.01 320.07,382.9 318.6,389.88C317.28,396.15 313.64,402.22 314.23,408.6C314.43,410.72 314.65,412.89 315.48,414.84C316.22,416.57 318.11,417.72 318.6,419.52C319.01,421.03 318.89,422.67 318.6,424.2C318.11,426.84 316.24,429.04 314.7,431.22C313.53,432.88 312.1,434.34 310.8,435.9L310.49,439.8C308.77,439.28 307,437.56 305.34,438.24C304.34,438.66 303.81,439.79 303.04,440.56C301.49,442.13 299.62,443.43 298.36,445.24C296.76,447.54 296.01,450.35 295.24,453.04C294.37,456.08 294.26,459.29 293.68,462.4C293.2,465.01 292.54,467.58 292.12,470.2C291.79,472.27 291.6,474.36 291.34,476.44C293.16,477.22 294.85,478.45 296.8,478.78C299.67,479.27 302.74,478.43 305.38,477.22C307.09,476.44 308.95,475.61 310.06,474.1C310.89,472.98 311.1,471.5 311.62,470.2L306.94,466.3L308.5,462.09L318.64,459.59L332.68,467.86L335.02,472.54L329.56,479.56L327.22,493.29L306.94,497.97L262.48,474.88C263.26,472.28 263.93,469.65 264.82,467.08C265.74,464.44 266.9,461.88 267.94,459.28L273.4,458.5L275.74,451.48C273.92,449.92 271.76,448.69 270.28,446.8C269.7,446.06 269.41,445.1 268.72,444.46C267.69,443.51 265.99,443.67 264.82,442.9C263.12,441.79 261.67,440.11 260.92,438.22C260.15,436.28 259.98,433.97 260.61,431.98C261.19,430.14 262.65,428.65 264.04,427.3C265.8,425.59 268.08,424.47 270.28,423.4C272.26,422.44 274.52,422.09 276.48,421.08C280.09,419.22 283.05,416.24 285.84,413.28C288.52,410.45 290.91,407.3 292.86,403.92C294.85,400.5 296.35,396.78 297.54,393C298.66,389.45 299.83,385.81 299.88,382.08C299.91,379.73 300.28,377.1 299.1,375.06C298.22,373.53 296.5,372.67 295.2,371.47C289.74,371.63 284.16,373.1 278.82,371.94C276.41,371.42 273.54,371.35 271.8,369.6C270.57,368.37 269.65,366.66 269.46,364.92C269.26,363.04 270.04,361.08 271.02,359.46C272.11,357.67 273.89,356.31 275.7,355.25C278.67,353.5 282.46,353.9 285.84,353.22L286.62,347.76L292.08,346.98L292.86,341.52L288.96,338.4L288.18,333.72Z"/>
<path class="m" d="M290.52,333.41L315.48,352.44"/>
<path class="t" d="M297.54,328.26L336.54,348.54"/>
<path class="t" d="M310.8,329.82L332.64,340.74"/>
<path class="t" d="M295.2,341.52L312.36,353.22"/>
<path class="t" d="M292.08,346.98C299.36,350.1 311.09,363.74 313.92,356.34C314.4,355.1 313.49,352.98 314.7,352.44C316.11,351.81 316.78,354.73 317.82,355.87"/>
<path class="t" d="M288.96,351.66L310.8,359.46"/>
<path class="t" d="M337.32,357.12C337.84,354.78 337.39,351.98 338.88,350.1C340.33,348.28 342.9,347.67 345.12,346.98C348.11,346.05 351.36,346.46 354.48,346.2"/>
<path class="t" d="M339.66,355.87L353.7,354.78"/>
<path class="m" d="M317.82,356.34C318.08,357.9 317.57,359.82 318.6,361.02C319.52,362.08 321.1,362.67 322.5,362.58C324.02,362.49 325.1,361.02 326.4,360.24"/>
<path class="t" d="M327.96,361.8C329,361.28 329.93,360.39 331.08,360.24C333.16,359.98 334.72,362.32 336.54,363.36"/>
<path class="t" d="M329.52,368.82C336.02,371.42 346.04,382.96 349.02,376.62C350.13,374.27 349.34,371.42 349.49,368.82"/>
<path class="t" d="M342,383.33C341.9,381.35 342.31,379.28 341.69,377.4C340,372.3 332.02,372.72 327.18,370.38"/>
<path class="t" d="M341.69,377.4L359.16,375.06"/>
<path class="t" d="M334.98,368.82L345.9,374.28"/>
<path class="t" d="M285.84,356.34C283.5,357.38 280.66,357.68 278.82,359.46C277.31,360.92 275.66,362.83 275.7,364.92C275.74,366.67 277.26,368.04 278.04,369.6"/>
<ellipse class="m" cx="281.16" cy="365.23" rx="3.12" ry="4.37" transform="rotate(20 281.16 365.23)"/>
<path class="t" d="M299.88,373.5C301.18,374.8 302.9,375.79 303.78,377.4C304.8,379.25 304.73,381.54 304.87,383.64C305.15,387.84 304.04,392.05 303,396.12C302.04,399.87 300.92,403.63 299.1,407.04C297.61,409.84 295.7,412.43 293.64,414.84C291.97,416.8 290,418.48 288.18,420.3"/>
<path class="t" d="M310.02,362.58C309.5,366.48 309.04,370.39 308.46,374.28C307.77,378.98 306.9,383.64 306.12,388.32"/>
<path class="t" d="M313.14,363.36L311.58,374.28"/>
<path class="t" d="M316.26,368.04C315.48,371.16 314.7,374.28 313.92,377.4C313.4,379.48 312.88,381.56 312.36,383.64"/>
<path class="t" d="M304.87,403.92C303.99,407.56 303.7,411.4 302.22,414.84C301.03,417.63 299.37,420.22 297.54,422.64C295.11,425.88 291.57,428.14 288.96,431.22C286.68,433.93 284.8,436.94 282.72,439.8"/>
<path class="t" d="M307.68,404.7C306.75,408.6 306.38,412.69 304.87,416.4C303.76,419.14 302.52,421.91 300.66,424.2C298.92,426.35 296.64,428.01 294.42,429.66C292.92,430.79 291.11,431.5 289.74,432.78C288.11,434.31 287.3,436.55 285.84,438.24C284.64,439.64 283.24,440.85 281.94,442.15"/>
<ellipse class="m" cx="310.49" cy="424.98" rx="3.74" ry="5.62" transform="rotate(25 310.49 424.98)"/>
<path class="t" d="M299.57,430.44C298.89,433.04 298.62,435.78 297.54,438.24C296.56,440.49 295.15,442.55 293.64,444.49C291.83,446.81 289.48,448.65 287.4,450.73"/>
<ellipse class="m" cx="271.02" cy="436.37" rx="3.43" ry="4.37" transform="rotate(20 271.02 436.37)"/>
<path class="t" d="M267.12,431.22C268.16,430.96 269.17,430.42 270.24,430.44C271.98,430.48 273.81,431.44 274.92,432.78C276.42,434.6 276.22,437.51 275.7,439.8C275.32,441.51 274.14,442.93 273.36,444.49"/>
<path class="t" d="M269.46,444.49C271.8,445.53 274.12,446.6 276.48,447.61C281.1,449.57 285.52,453.56 290.52,453.07C292.98,452.82 295.2,451.51 297.54,450.73"/>
<path class="t" d="M273.36,449.17C275.44,450.73 277.32,452.6 279.6,453.85C282.48,455.43 285.84,455.93 288.96,456.97"/>
<path class="t" d="M267.94,459.28C274.44,461.36 283.7,471.23 287.44,465.52C288.21,464.35 288.48,462.92 289,461.62"/>
<path class="t" d="M273.4,458.5L291.34,463.96"/>
<path class="m" d="M265.6,470.98C274.7,474.36 289.52,490.22 292.9,481.12C293.27,480.12 293.42,479.04 293.68,478"/>
<path class="t" d="M280.42,467.08C280.68,468.38 280.54,469.83 281.2,470.98C282.36,473 285.14,474.46 287.44,474.1C288.94,473.87 290.04,472.54 291.34,471.76"/>
<path class="t" d="M275.74,451.48C280.16,453.3 286.26,453.03 289,456.94C289.83,458.12 290.25,459.54 290.87,460.84"/>
<path class="t" d="M271.84,462.4L286.66,467.86"/>
<path class="t" d="M292.9,481.12C297.58,483.72 305.01,483.93 306.94,488.92C308.03,491.74 306.94,494.96 306.94,497.97"/>
<path class="t" d="M306.94,488.92C312.92,487.36 320.81,479.6 324.88,484.24C326.94,486.58 326.44,490.28 327.22,493.29"/>
<path class="t" d="M324.88,484.24C325.14,482.16 326.6,479.88 325.66,478C324.82,476.33 321.5,476.69 320.98,474.88C320.62,473.61 321.17,472.17 321.76,470.98C323.44,467.59 329.04,468.9 332.68,467.86"/>
<path class="t" d="M308.5,462.4C312.4,464.48 318.4,464.61 320.2,468.64C321.06,470.56 320.72,472.8 320.98,474.88"/>
<path class="t" d="M320.2,468.64L329.56,466.3"/>
<path class="t" d="M296.8,478.78C300.96,480.6 304.75,483.99 309.28,484.24C313.31,484.47 317.08,482.16 320.98,481.12"/>
<path class="t" d="M301.48,481.12L310.06,485.02"/>
<path class="l" d="M274.96,484.24L274.96,497.97"/></g>
<g id="p_left"><path class="l" d="M100.28,454.68L93.26,461.7L93.26,531.9L86.24,538.92L93.26,546.72"/>
<path class="l" d="M93.71,546.1L93.71,618.49L100.45,625.48"/>
<path class="l" d="M104.96,473.09L119.78,473.09"/>
<path class="l" d="M104.96,508.97L126.02,508.97"/>
<path class="l" d="M96.96,608.75L147.38,608.75"/>
<path class="k" d="M122.59,469.97C122.69,469.03 122.49,468.01 122.9,467.16C123.57,465.8 125.37,465.32 126.8,464.82C128.53,464.22 130.45,464.13 132.26,464.35C133.72,464.53 135.4,464.6 136.47,465.6C137.14,466.22 137.41,467.16 137.88,467.94C138.5,471.32 140.34,474.69 139.75,478.08C139.58,479.04 139.5,480.08 138.97,480.89C138.08,482.25 136.18,482.66 134.6,483.07C132.84,483.54 130.89,483.74 129.14,483.23C127.82,482.85 126.3,482.36 125.55,481.2C125.25,480.73 125.14,480.16 124.93,479.64L122.59,469.97"/>
<path class="t" d="M122.59,469.97C123.47,470.7 124.22,471.63 125.24,472.15C126.88,472.98 128.88,472.97 130.7,472.78C132.5,472.59 134.49,472.26 135.85,471.06C136.78,470.24 137.2,468.98 137.88,467.94"/>
<path class="t" d="M123.68,474.96C124.72,475.74 125.61,476.78 126.8,477.3C128.48,478.03 130.46,478.06 132.26,477.77C133.92,477.51 135.68,477 136.94,475.9C137.72,475.21 138.19,474.23 138.81,473.4"/>
<path class="k" d="M130.23,492.12C130.65,491.34 130.83,490.37 131.48,489.78C132.47,488.89 134.06,489.03 135.38,489C136.7,488.98 138.24,488.83 139.28,489.63C139.81,490.03 140.11,490.67 140.53,491.19L141.62,497.58L147.86,501.48L149.89,508.5L145.52,513.34C147.5,521.09 154.72,529.29 151.45,536.58C151.09,537.39 150.81,538.28 150.2,538.92C149.69,539.47 148.95,539.76 148.33,540.17C148.43,541.06 149.14,542.09 148.64,542.82C148.18,543.5 147.12,543.7 146.3,543.6C145.51,543.51 144.95,542.77 144.27,542.36C144.17,541.73 144.33,541 143.96,540.48C143.48,539.82 142.4,539.96 141.62,539.7L134.91,516.3L129.61,513.96L127.58,506.94L131.17,498.67L130.23,492.12Z"/>
<path class="t" d="M130.23,492.12C131.17,492.64 132.01,493.39 133.04,493.68C134.55,494.11 136.29,493.99 137.72,493.37C138.81,492.9 139.59,491.91 140.53,491.19"/>
<path class="t" d="M130.7,495.24C131.74,495.66 132.72,496.29 133.82,496.49C135.36,496.77 137.04,496.58 138.5,496.02C139.46,495.66 140.27,494.98 141.15,494.46"/>
<path class="t" d="M131.17,498.67C132.31,499.35 133.32,500.37 134.6,500.7C136.38,501.16 138.66,501.12 140.06,499.92C140.78,499.31 141.1,498.36 141.62,497.58"/>
<path class="t" d="M127.58,506.94L133.82,510.53L134.91,516.3"/>
<path class="t" d="M133.82,510.53L146.3,506.47L149.89,508.5"/>
<path class="t" d="M146.3,506.47L145.52,513.34"/>
<path class="t" d="M136.9,520.98C138.37,521.4 139.79,522.31 141.33,522.23C143.78,522.11 145.42,519.53 147.47,518.17"/>
<path class="t" d="M138.03,524.88C139.48,525.3 140.87,526.2 142.38,526.13C144.81,526.02 146.42,523.43 148.45,522.07"/>
<path class="t" d="M139.16,528.78C140.58,529.2 141.95,530.1 143.43,530.03C145.84,529.92 147.43,527.33 149.42,525.98"/>
<path class="t" d="M140.29,532.68C141.69,533.1 143.03,533.99 144.49,533.93C146.87,533.83 148.43,531.23 150.4,529.88"/>
<path class="t" d="M141.42,536.58C142.79,537 144.1,537.89 145.54,537.83C147.91,537.74 149.43,535.13 151.37,533.78"/>
<path class="k" d="M142.09,555.77C142.3,554.58 142.11,553.24 142.71,552.18C143.56,550.71 145.47,550.09 147.08,549.53C149.05,548.85 151.26,548.76 153.32,549.06C155.24,549.35 157.54,549.6 158.78,551.09C159.41,551.84 159.62,552.86 160.03,553.74C160.66,557.9 163.29,562.25 161.9,566.22C161.52,567.32 161.13,568.49 160.34,569.34C159.36,570.43 157.84,570.92 156.44,571.37C154.7,571.94 152.8,572.2 150.98,572C149.64,571.85 148.19,571.67 147.08,570.9C146.48,570.49 146.04,569.86 145.52,569.34L142.09,555.77"/>
<path class="t" d="M142.09,555.77C143.23,556.66 144.2,557.83 145.52,558.42C147.43,559.28 149.69,559.16 151.76,558.89C153.83,558.63 156.09,558.21 157.69,556.86C158.69,556.03 159.25,554.78 160.03,553.74"/>
<circle cx="146.3" cy="554.2" r="0.7" fill="#111"/>
<circle cx="150.2" cy="552.2" r="0.7" fill="#111"/>
<circle cx="154.9" cy="553.0" r="0.7" fill="#111"/>
<circle cx="148.6" cy="556.1" r="0.7" fill="#111"/>
<circle cx="153.3" cy="555.8" r="0.7" fill="#111"/>
<circle cx="157.2" cy="554.8" r="0.7" fill="#111"/>
<circle cx="145.5" cy="561.5" r="0.7" fill="#111"/>
<circle cx="149.4" cy="563.1" r="0.7" fill="#111"/>
<circle cx="153.3" cy="562.6" r="0.7" fill="#111"/>
<circle cx="157.7" cy="561.1" r="0.7" fill="#111"/>
<circle cx="147.1" cy="566.2" r="0.7" fill="#111"/>
<circle cx="151.5" cy="567.8" r="0.7" fill="#111"/>
<circle cx="155.7" cy="567.0" r="0.7" fill="#111"/>
<circle cx="159.3" cy="565.1" r="0.7" fill="#111"/>
<circle cx="148.6" cy="559.2" r="0.7" fill="#111"/>
<circle cx="156.4" cy="559.2" r="0.7" fill="#111"/>
<path class="k" d="M150.2,572C150.31,572.93 150.34,573.88 150.51,574.8C150.67,575.6 150.93,576.37 151.14,577.15"/>
<path class="k" d="M158.78,571.06C158.94,572.05 159.01,573.05 159.25,574.02C159.42,574.71 159.67,575.38 159.88,576.05"/>
<path class="t" d="M151.14,577.15C152.13,577.51 153.06,578.1 154.1,578.24C155.41,578.4 156.84,578.23 158,577.61C158.72,577.23 159.25,576.57 159.88,576.05"/>
<path class="k" d="M149.42,577.15C149.06,577.67 148.55,578.11 148.33,578.71C147.98,579.69 148.44,580.8 148.64,581.83C148.9,583.17 149.47,584.43 149.89,585.73"/>
<path class="k" d="M161.12,575.59C161.9,576.11 162.82,576.46 163.46,577.15C164.26,577.99 164.5,579.23 165.02,580.27"/>
<path class="t" d="M148.64,581.05C149.94,581.67 151.14,582.57 152.54,582.92C154.56,583.42 156.78,583.17 158.78,582.61C160.46,582.13 162.25,581.52 163.46,580.27C164.11,579.59 164.5,578.71 165.02,577.93"/></g>
<g id="p_caliper"><path class="k" d="M164.95,582.9C165.11,581.6 165.27,580.3 165.42,579C166.17,572.67 166.77,566.31 167.45,559.97L184.92,556.38L198.18,555.6L248.04,579.32L251.94,577.76L258.96,581.66L259.27,598.04C262.03,598.3 265.21,597.33 267.54,598.82C269.43,600.03 270.44,602.29 271.44,604.28C273.12,607.61 273.89,611.48 273.78,615.2C273.71,617.85 273.78,620.86 272.22,623C270.65,625.17 267.6,625.71 265.2,626.9C262.91,628.04 260.03,628.25 258.18,630.02C256.67,631.48 256.38,633.85 255.06,635.48C253.2,637.79 250.33,639.05 248.04,640.94C245.91,642.71 243.29,644.08 241.8,646.4C240.34,648.69 238.98,651.53 239.46,654.2C239.62,655.09 240.04,655.91 240.34,656.76L258.14,652.39C259.77,653.84 261.58,655.13 263.05,656.76C264.27,658.11 265.97,659.34 266.33,661.12C266.79,663.44 264.54,665.51 263.6,667.68C262.72,669.69 262.01,671.8 260.87,673.68C259.79,675.45 258.32,676.96 257.04,678.6L260.65,682.2C259.63,684.09 258.85,686.14 257.59,687.88C256.08,689.96 254.27,691.9 252.13,693.34C250.3,694.57 248.13,695.16 246.12,696.07C246.31,697.34 246.63,698.61 246.67,699.89C246.73,702.11 246.47,704.42 245.58,706.44C244.64,708.58 243.08,710.51 241.21,711.9C239.04,713.52 236.26,714.35 233.57,714.63C231.39,714.87 229.04,714.92 227.01,714.09C225.33,713.4 223.82,712.2 222.64,710.81C221.23,709.13 220.82,706.81 219.91,704.81C217.1,704.1 214.28,703.43 211.48,702.68C207.82,701.71 204.06,701.01 200.56,699.56C196.69,697.96 193.08,695.72 189.64,693.32C186.31,691 183.06,688.48 180.28,685.52C177.22,682.26 175.02,678.29 172.48,674.6C170.35,671.51 168.9,667.88 166.24,665.24C164.4,663.41 161.92,662.31 160,660.56C158.29,659 156.85,657.15 155.28,655.44L147.48,647.64L147.17,630.48C145.97,627.88 144.54,625.38 143.58,622.68C142.5,619.66 141.57,616.52 141.24,613.32C140.92,610.22 141.06,607.04 141.55,603.96C142.07,600.75 142.93,597.53 144.36,594.6C145.75,591.75 148,589.4 149.82,586.8L148.26,578.22"/>
<path class="t" d="M240.34,656.76C241.36,658.39 242.25,660.12 243.39,661.67C244.55,663.22 246.34,664.31 247.22,666.04C247.74,667.06 248.17,668.17 248.31,669.31C248.54,671.16 247.74,672.99 247.22,674.77C246.55,677.05 245.31,679.11 244.49,681.33C243.68,683.48 242.19,685.58 242.3,687.88C242.38,689.4 242.97,690.87 243.61,692.25C244.26,693.63 245.29,694.8 246.12,696.07"/>
<path class="t" d="M247.22,666.04L264.69,661.12"/>
<path class="t" d="M248.31,669.1L264.14,666.04"/>
<path class="m" d="M247.22,674.77L257.04,678.6"/>
<path class="t" d="M244.49,687.88L255.95,685.15"/>
<path class="lg" d="M261.41,688.43L284.89,702.08"/>
<path class="t" d="M221.55,701.53C225.19,701.53 228.85,701.91 232.47,701.53C236.36,701.12 240.12,699.86 243.94,699.02"/>
<path class="t" d="M224.83,704.26C227.74,704.08 230.67,704.08 233.57,703.71C237.18,703.26 240.7,702.26 244.27,701.53"/>
<path class="t" d="M224.83,704.26C225.01,706.08 224.7,708.02 225.37,709.72C225.96,711.17 227.19,712.27 228.1,713.54"/>
<path class="t" d="M228.65,706.44C229.92,706.08 231.25,705.87 232.47,705.35C234.75,704.39 236.48,702.44 238.48,700.98"/>
<path class="t" d="M233.02,704.26C232.65,705.72 232.54,707.26 231.93,708.63C231.08,710.52 229.38,711.9 228.1,713.54"/>
<path class="t" d="M225.92,630C225.37,633.64 224.65,637.26 224.28,640.92C223.92,644.55 223.66,648.2 223.74,651.84C223.84,656.6 224.65,661.33 225.37,666.04C226.34,672.28 227.84,678.43 229.2,684.6C230.4,690.08 231.74,695.52 233.02,700.98"/>
<path class="t" d="M231.93,630C231.02,633.64 229.84,637.22 229.2,640.92C228.57,644.53 228.13,648.18 228.1,651.84C228.07,656.6 229.02,661.33 229.74,666.04C230.7,672.28 232.12,678.45 233.57,684.6C234.73,689.54 236.11,694.43 237.39,699.35"/>
<path class="t" d="M170.1,561.06C173.48,562.62 176.78,567.11 180.24,565.74C183.36,564.51 183.36,559.81 184.92,556.85"/>
<path class="t" d="M180.24,565.74C176.34,570.68 173.6,576.82 168.54,580.56C167.39,581.41 166.15,582.12 164.95,582.9"/>
<path class="t" d="M184.92,565.74C182.32,569.12 179.87,572.62 177.12,575.88C174.4,579.12 171.61,582.32 168.54,585.24C163.57,589.98 157.62,593.56 152.16,597.72"/>
<path class="t" d="M193.5,570.42L184.92,580.87"/>
<path class="t" d="M165.42,591.48C168.8,588.88 171.67,585.43 175.56,583.68C178.5,582.37 181.77,581.97 184.92,581.34C188.53,580.62 192.2,580.3 195.84,579.78"/>
<path class="t" d="M195,563.72C199.68,566.06 203.81,570.71 209.04,570.74C211.15,570.75 213.18,569.86 215.28,569.65C228.44,568.35 239.16,588.14 251.94,584.78C254.09,584.22 256.1,583.22 258.18,582.44"/>
<path class="t" d="M251.94,584.78C250.12,588.68 247.5,592.3 246.48,596.48C246.11,598.02 245.96,599.6 245.7,601.16"/>
<path class="t" d="M235.25,581.19C233.53,582.65 231.3,583.66 230.1,585.56C228.69,587.81 228,590.77 228.54,593.36C228.97,595.41 229.92,597.66 231.66,598.82C233.41,599.98 235.91,600.27 237.9,599.6C239.48,599.07 241,597.94 241.8,596.48C242.8,594.66 242.23,592.28 241.8,590.24C241.39,588.3 240.65,586.37 239.46,584.78C238.36,583.31 236.65,582.39 235.25,581.19"/>
<path class="t" d="M234,584.78C234.26,588.06 232.14,592.65 234.78,594.61C236.27,595.71 238.42,595.34 240.24,595.7"/>
<path class="t" d="M253.03,585.56C251.63,587.64 249.8,589.49 248.82,591.8C247.79,594.24 247.05,596.96 247.26,599.6C247.42,601.49 246.95,604.81 248.82,605.06C249.97,605.22 250.9,604.02 251.94,603.5"/>
<path class="t" d="M248.82,605.06C250.9,603.76 253.43,602.99 255.06,601.16C256.61,599.43 257.14,597 258.18,594.92"/>
<path class="t" d="M206.7,571.52C204.36,577.76 201.71,583.89 199.68,590.24C197.87,595.89 196.56,601.68 195,607.4"/>
<path class="t" d="M215.28,575.42C212.94,580.88 210.38,586.25 208.26,591.8C205.91,597.95 203.67,604.15 202.02,610.52C200.69,615.66 199.94,620.92 198.9,626.12"/>
<path class="t" d="M241.8,598.04C238.68,603.76 235.11,609.26 232.44,615.2C229.95,620.76 227.64,626.45 226.2,632.36C224.72,638.47 223.86,644.8 223.86,651.08C223.86,657.37 224.91,663.65 226.2,669.8C227.65,676.73 230.36,683.33 232.44,690.09"/>
<path class="t" d="M244.92,600.38C241.8,606.36 238.12,612.08 235.56,618.32C233.28,623.88 231.4,629.62 230.1,635.48C228.74,641.62 227.76,647.92 227.76,654.2C227.76,660.49 228.8,666.77 230.1,672.93C231.68,680.41 234.78,687.49 237.12,694.77"/>
<path class="t" d="M191.2,651.98C191.98,657.96 192.71,663.95 193.54,669.92C194.52,676.95 195.62,683.96 196.66,690.98"/>
<path class="t" d="M196.66,651.98C197.7,657.96 198.82,663.93 199.78,669.92C200.94,677.18 201.86,684.48 202.9,691.76"/>
<path class="m" d="M148.26,616.44C151.64,615.82 155,615.06 158.4,614.57C162.79,613.93 167.28,612.58 171.66,613.32C173.53,613.64 175.3,614.36 177.12,614.88C185.96,620.6 196.52,624.29 203.64,632.04C205.02,633.54 206.82,634.83 207.54,636.72C208.48,639.16 208.44,642.3 207.07,644.52C206.27,645.84 204.91,646.76 203.64,647.64C198.92,650.91 192.23,649.26 186.48,649.2C181.26,649.16 175.82,649.35 170.88,647.64C166.92,646.27 163.4,643.8 159.96,641.4C156.63,639.08 153.54,636.41 150.6,633.6C149.54,632.59 148.52,631.52 147.48,630.48"/>
<path class="t" d="M150.6,633.6C154.24,636.72 157.58,640.23 161.52,642.96C164.96,645.36 168.49,647.8 172.44,649.2C177.38,650.96 182.81,650.95 188.04,651.08C193.25,651.2 199.21,652.73 203.64,649.98C205.3,648.96 206.55,647.38 208.01,646.08"/>
<path class="t" d="M158.4,614.57C159.7,617.8 161.5,620.86 162.3,624.24C163.14,627.8 162.82,631.52 163.08,635.16"/>
<path class="t" d="M171.66,613.32C171.92,618 171.8,622.72 172.44,627.36C173.21,632.92 175.04,638.28 176.34,643.74"/>
<path class="t" d="M175.87,614.88C176.03,619.56 175.73,624.28 176.34,628.92C177.05,634.24 178.94,639.32 180.24,644.52"/>
<path class="t" d="M179.46,616.44C179.46,620.08 179.04,623.75 179.46,627.36C180.09,632.76 182.58,637.76 184.14,642.96"/>
<path class="t" d="M181.8,633.6C184.4,633.34 187.18,633.79 189.6,632.82C191.68,631.99 193.24,630.22 195.06,628.92"/>
<path class="t" d="M148.26,632.04C148.78,634.64 149.18,637.27 149.82,639.84C151.14,645.19 153.46,650.24 155.28,655.44"/>
<path class="t" d="M208.32,573.54C205.2,579.52 201.34,585.17 198.96,591.48C196.7,597.5 195.38,603.87 194.28,610.2C193.57,614.33 193.24,618.52 192.72,622.68"/>
<path class="t" d="M215.34,575.88C211.96,582.12 207.73,587.97 205.2,594.6C202.91,600.61 201.38,606.95 200.52,613.32C200.03,616.94 200,620.6 199.74,624.24"/></g>
<g id="p_misc"><ellipse class="k" cx="300.9" cy="553.22" rx="11.23" ry="19.81" transform="rotate(20 300.9 553.22)"/>
<ellipse class="m" cx="301.37" cy="553.38" rx="8.42" ry="16.38" transform="rotate(20 301.37 553.38)"/>
<circle cx="308.9" cy="559.9" r="0.6" fill="#111"/>
<circle cx="303.9" cy="567.0" r="0.6" fill="#111"/>
<circle cx="298.1" cy="570.4" r="0.6" fill="#111"/>
<circle cx="293.2" cy="569.2" r="0.6" fill="#111"/>
<circle cx="290.3" cy="563.7" r="0.6" fill="#111"/>
<circle cx="290.3" cy="555.4" r="0.6" fill="#111"/>
<circle cx="293.2" cy="546.5" r="0.6" fill="#111"/>
<circle cx="298.2" cy="539.4" r="0.6" fill="#111"/>
<circle cx="304.0" cy="536.0" r="0.6" fill="#111"/>
<circle cx="309.0" cy="537.2" r="0.6" fill="#111"/>
<circle cx="311.8" cy="542.7" r="0.6" fill="#111"/>
<circle cx="311.8" cy="551.0" r="0.6" fill="#111"/>
<ellipse class="k" cx="334.6" cy="570.38" rx="15.6" ry="21.06" transform="rotate(22 334.6 570.38)"/>
<ellipse class="t" cx="336.79" cy="570.07" rx="13.42" ry="19.03" transform="rotate(22 336.79 570.07)"/>
<ellipse class="m" cx="338.97" cy="569.91" rx="10.92" ry="15.6" transform="rotate(22 338.97 569.91)"/>
<ellipse class="t" cx="340.06" cy="570.38" rx="8.11" ry="11.7" transform="rotate(22 340.06 570.38)"/>
<ellipse class="m" cx="340.22" cy="571.16" rx="5.62" ry="8.42" transform="rotate(22 340.22 571.16)"/>
<ellipse class="t" cx="339.28" cy="571.94" rx="3.9" ry="6.55" transform="rotate(22 339.28 571.94)"/>
<circle cx="332.2" cy="589.5" r="0.6" fill="#111"/>
<circle cx="326.8" cy="588.1" r="0.6" fill="#111"/>
<circle cx="322.7" cy="584.0" r="0.6" fill="#111"/>
<circle cx="320.5" cy="577.8" r="0.6" fill="#111"/>
<circle cx="320.6" cy="570.4" r="0.6" fill="#111"/>
<circle cx="323.0" cy="563.0" r="0.6" fill="#111"/>
<circle cx="327.4" cy="556.7" r="0.6" fill="#111"/>
<circle cx="332.9" cy="552.5" r="0.6" fill="#111"/>
<circle cx="338.9" cy="550.9" r="0.6" fill="#111"/>
<circle cx="344.3" cy="552.3" r="0.6" fill="#111"/>
<circle cx="348.4" cy="556.5" r="0.6" fill="#111"/>
<circle cx="333.6" cy="586.4" r="0.6" fill="#111"/>
<circle cx="328.2" cy="583.3" r="0.6" fill="#111"/>
<circle cx="325.4" cy="576.7" r="0.6" fill="#111"/>
<circle cx="326.0" cy="568.2" r="0.6" fill="#111"/>
<circle cx="329.8" cy="560.2" r="0.6" fill="#111"/>
<circle cx="335.8" cy="554.8" r="0.6" fill="#111"/>
<circle cx="342.4" cy="553.5" r="0.6" fill="#111"/>
<circle cx="347.9" cy="556.5" r="0.6" fill="#111"/>
<path class="l" d="M315.57,539.65L371.26,539.65"/>
<path class="l" d="M352.07,571.16L371.26,571.16"/>
<path class="l" d="M366.85,522.98L372.84,529.97L372.84,546.19L381.83,553.56L372.84,560.92L372.84,579.89L366.85,587.38"/>
<path class="d" d="M311.98,579.27L276.88,596.12"/>
<path d="M299.65,648.67C301.57,649.35 303.38,650.59 305.42,650.7C307.56,650.82 309.79,650.18 311.66,649.14C313.85,647.93 315.46,645.79 316.81,643.68C318.58,640.91 319.42,637.57 319.93,634.32C320.42,631.24 320.55,628.02 319.93,624.96C319.37,622.22 318.56,619.34 316.81,617.16C315.27,615.25 313.25,613.44 310.88,612.79C309.13,612.31 307.05,611.99 305.42,612.79C304,613.49 302.73,614.86 302.3,616.38C301.87,617.9 302.59,619.56 303.08,621.06C303.96,623.73 306.54,625.55 307.76,628.08C309.18,631.01 310,634.23 310.57,637.44C311.12,640.52 311.11,643.68 311.19,646.8C311.33,652 310.83,657.2 310.57,662.4C310.17,670.21 309.55,678 309.01,685.8C308.51,693.08 307.97,700.36 307.45,707.64" fill="none" stroke="#111" stroke-width="3.9" stroke-linecap="round" stroke-linejoin="round"/>
<path d="M299.65,648.67C301.57,649.35 303.38,650.59 305.42,650.7C307.56,650.82 309.79,650.18 311.66,649.14C313.85,647.93 315.46,645.79 316.81,643.68C318.58,640.91 319.42,637.57 319.93,634.32C320.42,631.24 320.55,628.02 319.93,624.96C319.37,622.22 318.56,619.34 316.81,617.16C315.27,615.25 313.25,613.44 310.88,612.79C309.13,612.31 307.05,611.99 305.42,612.79C304,613.49 302.73,614.86 302.3,616.38C301.87,617.9 302.59,619.56 303.08,621.06C303.96,623.73 306.54,625.55 307.76,628.08C309.18,631.01 310,634.23 310.57,637.44C311.12,640.52 311.11,643.68 311.19,646.8C311.33,652 310.83,657.2 310.57,662.4C310.17,670.21 309.55,678 309.01,685.8C308.51,693.08 307.97,700.36 307.45,707.64" fill="none" stroke="#fff" stroke-width="2.1" stroke-linecap="round" stroke-linejoin="round"/>
<path d="M289.82,706.08C291.64,707.12 293.35,708.39 295.28,709.2C297.51,710.15 299.88,711.02 302.3,711.08C304.97,711.14 307.56,710.04 310.1,709.2C312.07,708.55 313.95,707.64 315.87,706.86C316.39,707.64 317.07,708.34 317.43,709.2C318.46,711.62 317.01,714.46 316.34,717C315.63,719.71 314.89,722.55 313.22,724.8C311.46,727.19 308.91,729.06 306.2,730.27C304.24,731.14 301.92,732.7 299.96,731.83C298.68,731.25 297.44,730.08 297.15,728.71C296.88,727.37 297.57,725.89 298.4,724.8C299.61,723.23 302.07,723.3 303.86,722.46C305.44,721.73 307.4,721.45 308.54,720.12C309.78,718.69 309.67,716.51 310.1,714.66C310.4,713.37 310.62,712.06 310.88,710.76" fill="none" stroke="#111" stroke-width="3.9" stroke-linecap="round" stroke-linejoin="round"/>
<path d="M289.82,706.08C291.64,707.12 293.35,708.39 295.28,709.2C297.51,710.15 299.88,711.02 302.3,711.08C304.97,711.14 307.56,710.04 310.1,709.2C312.07,708.55 313.95,707.64 315.87,706.86C316.39,707.64 317.07,708.34 317.43,709.2C318.46,711.62 317.01,714.46 316.34,717C315.63,719.71 314.89,722.55 313.22,724.8C311.46,727.19 308.91,729.06 306.2,730.27C304.24,731.14 301.92,732.7 299.96,731.83C298.68,731.25 297.44,730.08 297.15,728.71C296.88,727.37 297.57,725.89 298.4,724.8C299.61,723.23 302.07,723.3 303.86,722.46C305.44,721.73 307.4,721.45 308.54,720.12C309.78,718.69 309.67,716.51 310.1,714.66C310.4,713.37 310.62,712.06 310.88,710.76" fill="none" stroke="#fff" stroke-width="2.1" stroke-linecap="round" stroke-linejoin="round"/>
<path class="lg" d="M314.78,674.57L329.6,674.57"/>
<path class="k" d="M473.04,485.14L478.5,486.7L476.94,492.16C482.92,493.98 490.16,493.53 494.88,497.62C495.72,498.34 496.44,499.18 497.22,499.96L496.44,510.1L498,511.66L501.12,529.6L493.32,549.88L489.42,570.16L473.82,594.34C467.58,597.46 460.67,599.5 455.1,603.71C452.9,605.37 451.23,607.74 448.86,609.17C447.62,609.91 446.37,610.72 444.96,611.04C443.18,611.44 441.28,610.35 439.5,610.73C437.79,611.09 436.38,612.29 434.82,613.07L434.04,617.28L430.14,618.21C429.36,616.24 428.27,614.36 427.8,612.29C427.11,609.24 427.8,606.05 427.8,602.93L439.5,598.24C439.76,590.96 439.44,583.64 440.28,576.4C441.07,569.57 442.31,562.75 444.18,556.12C446,549.71 448.42,543.46 451.2,537.4C453.92,531.48 457.36,525.92 460.56,520.24C463.36,515.27 466.28,510.36 469.14,505.42L462.12,503.55L461.34,499.18L473.04,485.14Z"/>
<path class="t" d="M471.48,508.54L484.74,503.86L496.44,510.1"/>
<path class="t" d="M471.48,508.54L482.4,514.78L497.22,511.66"/>
<path class="t" d="M482.4,514.78C478.76,522.32 474.79,529.71 471.48,537.4C467.98,545.57 464.56,553.82 462.12,562.36C460.08,569.52 458.43,576.82 457.44,584.2C456.55,590.92 456.61,597.72 456.19,604.49"/>
<path class="t" d="M471.48,508.54C467.32,515.56 462.62,522.29 459,529.6C455.28,537.13 452.01,544.94 449.64,553C447.39,560.63 445.84,568.5 444.96,576.4C444.27,582.61 444.44,588.88 444.18,595.12L455.1,603.71"/>
<path class="t" d="M468.67,506.2C464.51,512.96 459.78,519.4 456.19,526.48C452.4,533.98 449.18,541.82 446.83,549.88C444.47,558.01 443.05,566.43 442.15,574.84C441.33,582.6 441.63,590.44 441.37,598.24"/>
<path class="t" d="M429.36,604.49C432.48,603.19 436.01,602.6 438.72,600.59C439.67,599.88 440.49,599.02 441.37,598.24"/>
<path class="t" d="M431.7,605.27L432.48,616.19"/>
<path class="k" d="M530.38,519.67L536.62,521.23L534.28,526.38C540.52,528.2 548.56,527.1 553,531.84C553.69,532.57 554.25,533.4 554.88,534.18C553.73,538.08 552.44,541.94 551.44,545.88C550.15,551.02 548.97,556.22 548.32,561.48C547.68,566.65 547.8,571.88 547.54,577.08L540.52,599.7C537.14,605.16 533.42,610.43 530.38,616.08C526.75,622.85 524.14,630.12 521.02,637.15C517.38,638.97 513.74,640.79 510.1,642.61C508.02,643.65 506.17,645.44 503.86,645.73C502.04,645.95 500.22,644.66 498.4,644.95C497.02,645.16 495.8,645.99 494.5,646.51L490.6,651.97L486.23,652.75C485.87,650.41 485.26,648.09 485.14,645.73C485,643.12 485.45,640.53 485.61,637.93L496.06,631.68L495.28,628.88L489.82,625.44C490.08,620.76 490.16,616.07 490.6,611.4C491.25,604.6 492.18,597.79 493.72,591.12C495.44,583.67 497.95,576.4 500.74,569.28C503.25,562.89 506.35,556.75 509.32,550.56C511.84,545.32 514.52,540.16 517.12,534.96L530.38,519.67Z"/>
<path class="t" d="M517.12,534.96C517.9,536 518.48,537.23 519.46,538.08C521.86,540.15 529.39,536.53 528.82,539.64C528.7,540.31 528.3,540.89 528.04,541.51"/>
<path class="t" d="M528.82,540.42C524.92,547.44 520.54,554.22 517.12,561.48C513.79,568.56 511.4,576.04 508.54,583.32C510.36,584.62 514.25,585 514,587.22C513.86,588.52 512.69,589.55 511.66,590.34C510.36,591.35 508.54,591.38 506.98,591.9C506.2,595.8 505.42,599.7 504.64,603.6C503.6,608.8 502.17,613.94 501.52,619.2C500.95,623.86 499.16,628.83 500.74,633.24C501.81,636.23 503.5,639.37 506.2,641.05C507.39,641.78 508.8,642.09 510.1,642.61"/>
<path class="t" d="M530.38,525.6C527.52,528.72 523.72,531.19 521.8,534.96C521.17,536.21 520.76,537.56 520.24,538.86"/>
<path class="t" d="M553,532.62C548.32,533.14 543.22,532.17 538.96,534.18C531.58,537.66 530.35,548.05 526.48,555.24C522.65,562.37 519.41,569.8 515.87,577.08"/>
<path class="t" d="M520.24,538.86C516.34,546.4 511.83,553.66 508.54,561.48C505.35,569.06 502.69,576.9 500.74,584.88C498.74,593.06 497.61,601.46 496.84,609.84C496.18,617.1 496.32,624.4 496.06,631.68"/>
<path class="t" d="M525.7,541.98C521.8,549 517.42,555.78 514,563.04C510.67,570.12 507.53,577.35 505.42,584.88C503.43,592.01 502.64,599.41 501.52,606.72C500.25,615.01 499.44,623.36 498.4,631.68"/>
<path class="t" d="M487.48,638.71C490.34,637.15 493.6,636.16 496.06,634.02C496.89,633.3 497.62,632.46 498.4,631.68"/>
<path class="t" d="M488.73,639.49L489.04,650.41"/>
<path class="l" d="M456.18,593.56L456.18,642.23L506.1,621.51"/>
<path class="k" d="M148.64,723.2L133.67,747.41L139.41,749.91C161.62,762.55 183.41,775.98 206.05,787.85C208.13,788.94 209.95,791.03 212.29,791.09C213.85,791.13 215.29,790.26 216.79,789.84C219.86,791.09 223.12,795.21 226.02,793.59C227.75,792.62 228.63,790.48 229.27,788.6C229.88,786.78 230.55,784.61 229.77,782.85C228.94,781 226.44,780.53 224.77,779.36C224.36,776.61 224.69,773.64 223.53,771.12C222.65,769.24 221.03,767.8 219.78,766.13L154.38,728.69L148.64,723.2Z"/>
<path class="t" d="M154.38,728.69C152.55,732.64 151.39,736.98 148.89,740.55C146.34,744.18 142.57,746.79 139.41,749.91"/>
<path class="t" d="M151.64,725.69C149.64,729.56 147.99,733.63 145.65,737.3C143.05,741.37 139.66,744.87 136.66,748.66"/>
<path class="t" d="M219.78,766.13C216.87,767.38 213.35,767.7 211.05,769.88C208.69,772.1 207.64,775.48 206.8,778.61C206,781.59 206.3,784.77 206.05,787.85"/>
<path class="t" d="M216.79,789.84C216.12,787.76 214.4,785.75 214.79,783.6C215.16,781.56 216.62,779.43 218.53,778.61C220.46,777.78 222.69,779.11 224.77,779.36"/>
<ellipse class="t" cx="227.27" cy="786.1" rx="2.5" ry="5.49" transform="rotate(-30 227.27 786.1)"/>
<path class="t" d="M217.78,780.36L216.79,787.85"/>
<path class="t" d="M219.78,781.11L218.78,789.1"/>
<path class="t" d="M221.78,781.86L220.78,790.34"/>
<path class="t" d="M223.78,782.61L222.78,791.59"/>
<path class="t" d="M225.77,783.35L224.77,792.84"/>
<path class="k" d="M109.95,749.91L92.98,776.12L99.47,778.61C130.42,795.83 160.93,813.88 192.32,830.28C194.4,831.37 196.22,833.47 198.56,833.53C200.12,833.56 201.56,832.69 203.06,832.28C206.14,833.53 209.39,837.64 212.29,836.02C214.03,835.05 214.9,832.91 215.54,831.03C216.16,829.21 216.82,827.04 216.04,825.29C215.21,823.43 212.71,822.96 211.05,821.79C210.63,819.05 210.96,816.08 209.8,813.56C208.92,811.67 207.3,810.23 206.05,808.56L114.95,756.15L109.95,749.91Z"/>
<path class="t" d="M114.95,756.15C113.03,760.31 111.79,764.85 109.2,768.63C106.58,772.46 102.71,775.28 99.47,778.61"/>
<path class="t" d="M112.95,752.4C110.62,756.6 108.63,761.01 105.96,765.01C103.02,769.41 99.3,773.24 95.98,777.36"/>
<path class="t" d="M206.05,808.56C203.14,809.81 199.62,810.13 197.32,812.31C194.97,814.53 193.91,817.92 193.07,821.05C192.27,824.03 192.57,827.2 192.32,830.28"/>
<path class="t" d="M203.06,832.28C202.39,830.2 200.67,828.19 201.06,826.04C201.43,823.99 202.89,821.87 204.8,821.05C206.73,820.22 208.97,821.54 211.05,821.79"/>
<ellipse class="t" cx="213.54" cy="828.53" rx="2.5" ry="5.49" transform="rotate(-30 213.54 828.53)"/>
<path class="t" d="M204.06,822.79L203.06,830.28"/>
<path class="t" d="M206.05,823.54L205.05,831.53"/>
<path class="t" d="M208.05,824.29L207.05,832.78"/>
<path class="t" d="M210.05,825.04L209.05,834.02"/>
<path class="t" d="M212.04,825.79L211.05,835.27"/>
<path class="lg" d="M182.29,728.94L182.29,743.42"/>
<path class="l" d="M142.4,804.32L142.4,816.05"/></g>
<g id="p_labels"><path class="n" transform="translate(447.25 132.75) scale(0.93)" d="M-2.6,0.55H-0.1V10"/>
<path class="n" transform="translate(454.75 132.75) scale(0.93)" d="M-3,2.9C-3,1.2 -1.7,0 0,0C1.7,0 3,1.2 3,2.8C3,3.9 2.5,4.7 1.7,5.5L-3.1,10H3.3"/>
<path class="n" transform="translate(542.85 340.85) scale(0.93)" d="M-2.6,0.55H-0.1V10"/>
<path class="n" transform="translate(550.35 340.85) scale(0.93)" d="M-2.6,0.55H-0.1V10"/>
<path class="n" transform="translate(227.15 256.25) scale(0.93)" d="M-2.6,0.55H-0.1V10"/>
<path class="n" transform="translate(234.65 256.25) scale(0.93)" d="M-2.7,2.2C-2.4,0.9 -1.4,0 0,0C1.5,0 2.5,1 2.5,2.4C2.5,3.8 1.5,4.7 0.1,4.7C1.7,4.7 3,5.8 3,7.3C3,8.9 1.7,10 0,10C-1.6,10 -2.7,9 -3,7.6"/>
<path class="n" transform="translate(179.45 312.75) scale(0.93)" d="M-2.6,0.55H-0.1V10"/>
<path class="n" transform="translate(186.95 312.75) scale(0.93)" d="M-3.1,0H3.1L-1.9,10"/>
<path class="n" transform="translate(173.70 406.65) scale(0.93)" d="M-2.7,2.2C-2.4,0.9 -1.4,0 0,0C1.5,0 2.5,1 2.5,2.4C2.5,3.8 1.5,4.7 0.1,4.7C1.7,4.7 3,5.8 3,7.3C3,8.9 1.7,10 0,10C-1.6,10 -2.7,9 -3,7.6"/>
<path class="n" transform="translate(442.90 381.95) scale(0.93)" d="M0,0C1.4,0 2.4,1 2.4,2.35C2.4,3.7 1.4,4.7 0,4.7C-1.4,4.7 -2.4,3.7 -2.4,2.35C-2.4,1 -1.4,0 0,0ZM0,4.7C1.7,4.7 3,5.8 3,7.35C3,8.9 1.7,10 0,10C-1.7,10 -3,8.9 -3,7.35C-3,5.8 -1.7,4.7 0,4.7Z"/>
<path class="n" transform="translate(275.40 501.95) scale(0.93)" d="M-3,2.9C-3,1.2 -1.7,0 0,0C1.7,0 3,1.2 3,2.8C3,3.9 2.5,4.7 1.7,5.5L-3.1,10H3.3"/>
<path class="n" transform="translate(100.00 468.45) scale(0.93)" d="M2.6,0H-1.7L-2.4,4.5C-1.7,3.9 -0.9,3.6 0,3.6C1.8,3.6 3.1,5 3.1,6.8C3.1,8.6 1.8,10 -0.1,10C-1.5,10 -2.6,9.2 -3.1,8"/>
<path class="n" transform="translate(99.50 504.35) scale(0.93)" d="M1.2,0L-2.6,5C-3.1,5.8 -3.3,6.3 -3.3,6.8C-3.3,8.6 -1.8,10 0,10C1.8,10 3.3,8.6 3.3,6.7C3.3,4.9 1.8,3.5 0,3.5C-1,3.5 -1.9,3.9 -2.5,4.7"/>
<path class="n" transform="translate(82.90 534.25) scale(0.93)" d="M-2.6,0.55H-0.1V10"/>
<path class="n" transform="translate(98.45 563.65) scale(0.93)" d="M-2.6,0.55H-0.1V10"/>
<path class="n" transform="translate(105.95 563.65) scale(0.93)" d="M1.2,0L-2.6,5C-3.1,5.8 -3.3,6.3 -3.3,6.8C-3.3,8.6 -1.8,10 0,10C1.8,10 3.3,8.6 3.3,6.7C3.3,4.9 1.8,3.5 0,3.5C-1,3.5 -1.9,3.9 -2.5,4.7"/>
<path class="n" transform="translate(387.05 548.65) scale(0.93)" d="M-2.6,0.55H-0.1V10"/>
<path class="n" transform="translate(394.55 548.65) scale(0.93)" d="M1.2,0L-2.6,5C-3.1,5.8 -3.3,6.3 -3.3,6.8C-3.3,8.6 -1.8,10 0,10C1.8,10 3.3,8.6 3.3,6.7C3.3,4.9 1.8,3.5 0,3.5C-1,3.5 -1.9,3.9 -2.5,4.7"/>
<path class="n" style="stroke:#6e6e6e" transform="translate(335.70 669.95) scale(0.93)" d="M1.7,10V0L-3.4,7.3H3.4"/>
<path class="n" transform="translate(449.95 647.55) scale(0.93)" d="M-2.6,0.55H-0.1V10"/>
<path class="n" transform="translate(457.45 647.55) scale(0.93)" d="M2.6,0H-1.7L-2.4,4.5C-1.7,3.9 -0.9,3.6 0,3.6C1.8,3.6 3.1,5 3.1,6.8C3.1,8.6 1.8,10 -0.1,10C-1.5,10 -2.6,9.2 -3.1,8"/>
<path class="n" style="stroke:#6e6e6e" transform="translate(178.95 717.45) scale(0.93)" d="M-2.6,0.55H-0.1V10"/>
<path class="n" style="stroke:#6e6e6e" transform="translate(186.85 717.45) scale(0.93)" d="M-1.2,10L2.6,5C3.1,4.2 3.3,3.7 3.3,3.2C3.3,1.4 1.8,0 0,0C-1.8,0 -3.3,1.4 -3.3,3.3C-3.3,5.1 -1.8,6.5 0,6.5C1,6.5 1.9,6.1 2.5,5.3"/>
<path class="n" transform="translate(138.65 820.15) scale(0.93)" d="M-3,2.9C-3,1.2 -1.7,0 0,0C1.7,0 3,1.2 3,2.8C3,3.9 2.5,4.7 1.7,5.5L-3.1,10H3.3"/>
<path class="n" transform="translate(146.15 820.15) scale(0.93)" d="M0,0C1.9,0 3.1,2 3.1,5C3.1,8 1.9,10 0,10C-1.9,10 -3.1,8 -3.1,5C-3.1,2 -1.9,0 0,0Z"/>
<path class="n" style="stroke:#000" transform="translate(333.60 296.15) scale(0.93)" d="M-1.2,10L2.6,5C3.1,4.2 3.3,3.7 3.3,3.2C3.3,1.4 1.8,0 0,0C-1.8,0 -3.3,1.4 -3.3,3.3C-3.3,5.1 -1.8,6.5 0,6.5C1,6.5 1.9,6.1 2.5,5.3"/>
<rect x="323.7" y="289.2" width="20.3" height="23.5" fill="#ff0000" fill-opacity="0.48"/></g>
</svg>
<div class="bar"><span style="left:171px;letter-spacing:-0.9px">VAG</span><span style="left:225px">-</span><span style="left:239px">6R0615311D</span><span style="left:418px">N</span><span style="left:441px">-</span><span style="left:456px">9</span></div>
</body></html>
